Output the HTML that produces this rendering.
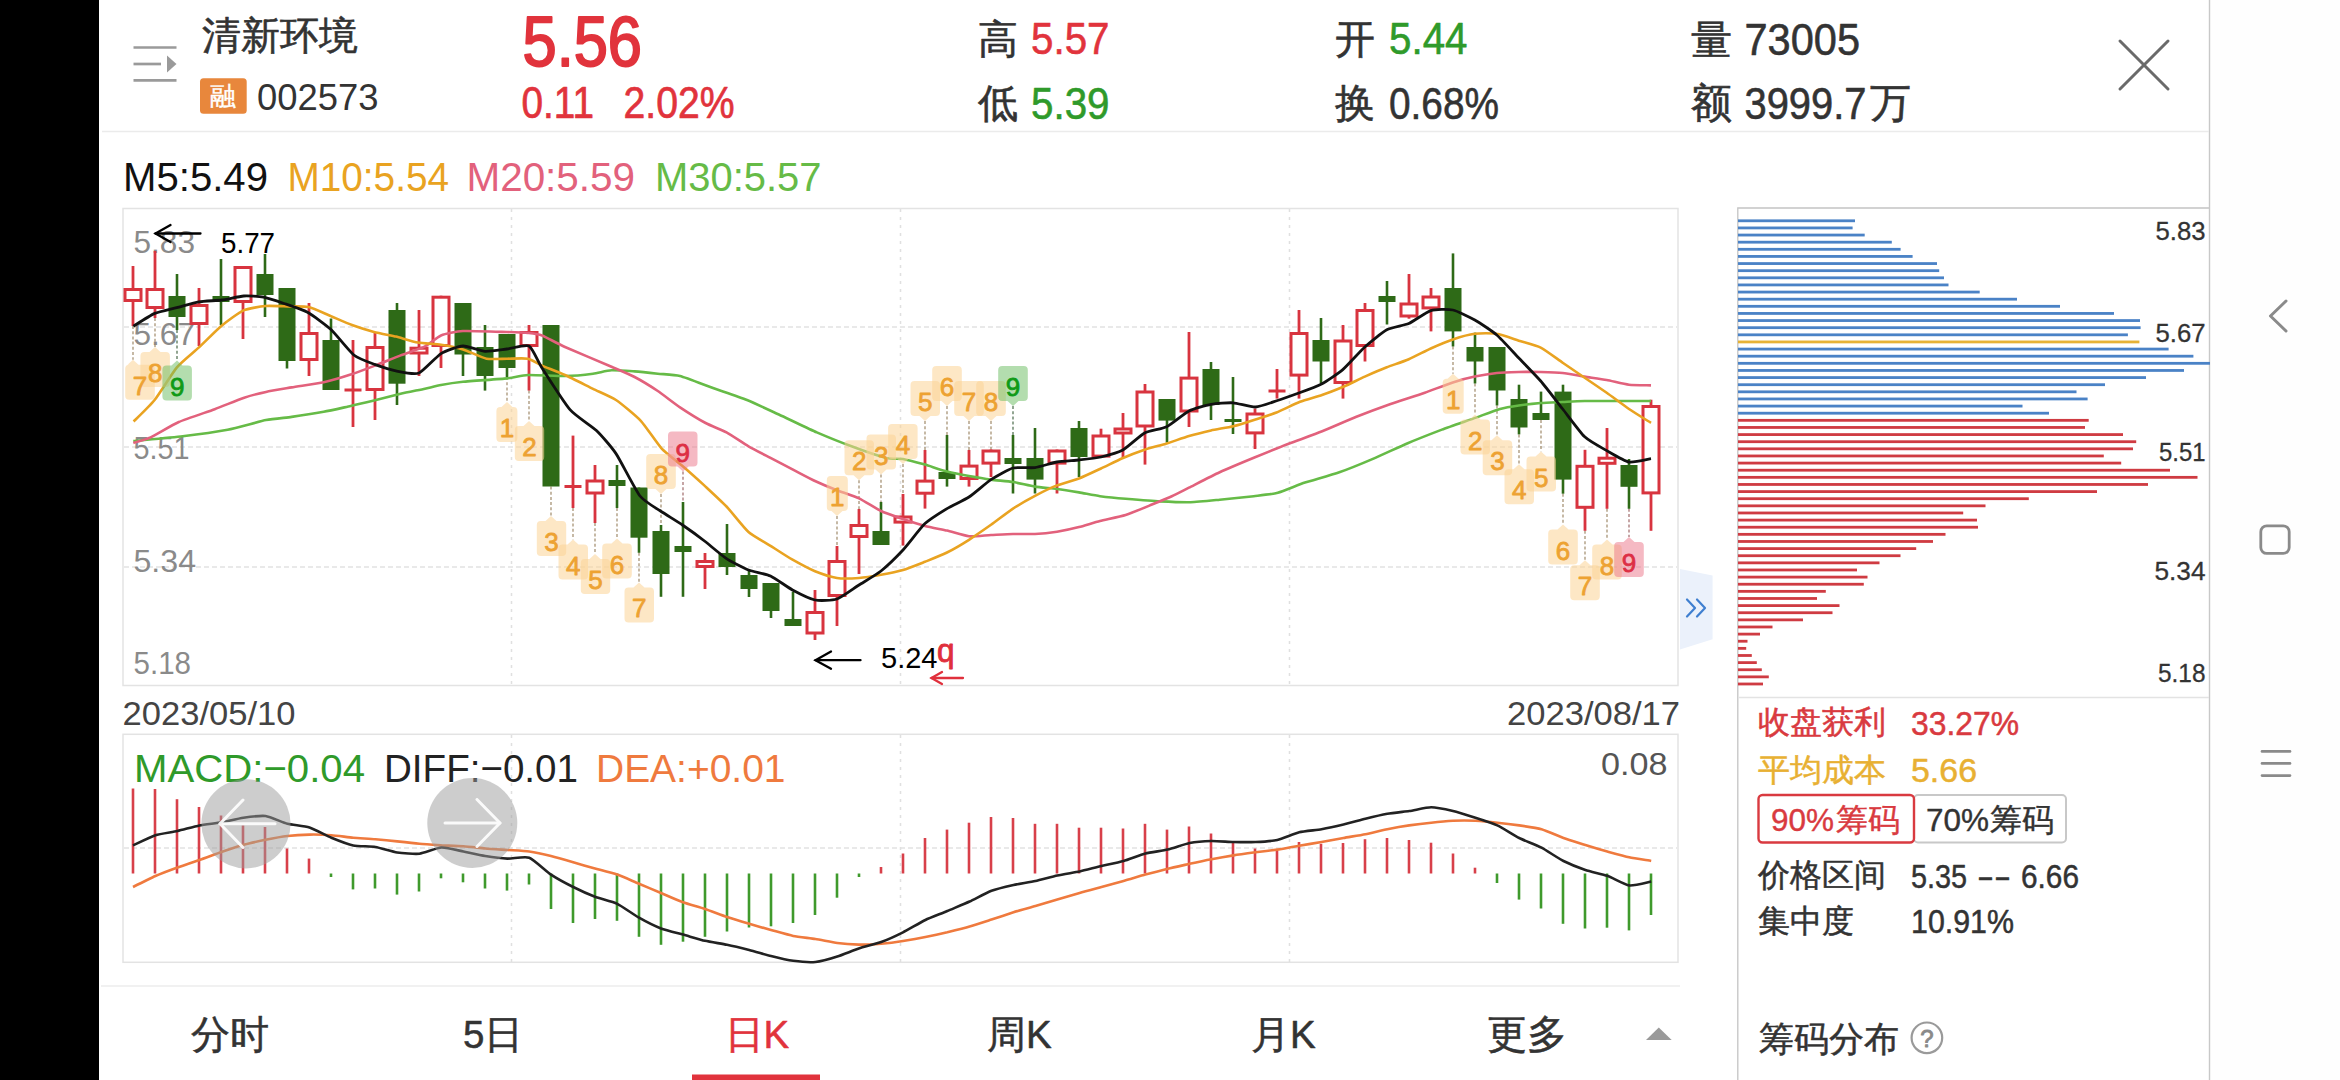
<!DOCTYPE html>
<html><head><meta charset="utf-8"><title>K</title>
<style>
html,body{margin:0;padding:0;background:#fff;}
body{width:2340px;height:1080px;overflow:hidden;font-family:"Liberation Sans", sans-serif;}
svg{display:block;font-family:"Liberation Sans", sans-serif;}
</style></head><body>
<svg width="2340" height="1080" viewBox="0 0 2340 1080">
<rect width="2340" height="1080" fill="#fff"/>
<rect x="0" y="0" width="99" height="1080" fill="#000"/>
<rect x="2210" y="0" width="130" height="1080" fill="#fefefe"/>
<line x1="2209.5" y1="0" x2="2209.5" y2="1080" stroke="#c8c8c8" stroke-width="1.4"/>
<line x1="102" y1="131.5" x2="2209" y2="131.5" stroke="#ebebeb" stroke-width="1.5"/>
<g stroke="#9a9a9a" stroke-width="2.7" fill="none"><line x1="133.5" y1="47.5" x2="176.5" y2="47.5"/><line x1="133.5" y1="64" x2="161" y2="64"/><line x1="133.5" y1="80.3" x2="176.5" y2="80.3"/></g>
<path d="M167,55.5 L176.5,64 L167,72.6 Z" fill="#9a9a9a"/>
<text x="202.0" y="49.3" font-size="39.3" fill="#333333" stroke="#333333" stroke-width="0.60" stroke-linejoin="round">清新环境</text>
<rect x="200" y="78.3" width="46.7" height="35.4" rx="3.5" fill="#e8873c"/>
<text x="223.3" y="105.0" font-size="26.0" fill="#fff" text-anchor="middle" stroke="#fff" stroke-width="0.40" stroke-linejoin="round">融</text>
<text x="257.0" y="110.2" font-size="36.5" fill="#333333" textLength="121.5" lengthAdjust="spacingAndGlyphs">002573</text>
<text x="522.5" y="65.8" font-size="70.5" fill="#e1333c" textLength="119.5" lengthAdjust="spacingAndGlyphs" stroke="#e1333c" stroke-width="2.00" stroke-linejoin="round">5.56</text>
<text x="521.5" y="117.7" font-size="44.5" fill="#e1333c" textLength="72.5" lengthAdjust="spacingAndGlyphs" stroke="#e1333c" stroke-width="0.70" stroke-linejoin="round">0.11</text>
<text x="623.5" y="117.7" font-size="44.5" fill="#e1333c" textLength="111.0" lengthAdjust="spacingAndGlyphs" stroke="#e1333c" stroke-width="0.70" stroke-linejoin="round">2.02%</text>
<text x="978.0" y="53.0" font-size="40.0" fill="#333333" stroke="#333333" stroke-width="0.60" stroke-linejoin="round">高</text>
<text x="1031.0" y="53.8" font-size="44.8" fill="#e1333c" textLength="78.5" lengthAdjust="spacingAndGlyphs" stroke="#e1333c" stroke-width="0.60" stroke-linejoin="round">5.57</text>
<text x="978.0" y="116.5" font-size="40.0" fill="#333333" stroke="#333333" stroke-width="0.60" stroke-linejoin="round">低</text>
<text x="1031.0" y="118.5" font-size="44.8" fill="#2f9a2a" textLength="78.5" lengthAdjust="spacingAndGlyphs" stroke="#2f9a2a" stroke-width="0.60" stroke-linejoin="round">5.39</text>
<text x="1335.0" y="53.0" font-size="40.0" fill="#333333" stroke="#333333" stroke-width="0.60" stroke-linejoin="round">开</text>
<text x="1389.0" y="53.8" font-size="44.8" fill="#2f9a2a" textLength="78.5" lengthAdjust="spacingAndGlyphs" stroke="#2f9a2a" stroke-width="0.60" stroke-linejoin="round">5.44</text>
<text x="1335.0" y="116.5" font-size="40.0" fill="#333333" stroke="#333333" stroke-width="0.60" stroke-linejoin="round">换</text>
<text x="1389.0" y="118.5" font-size="44.8" fill="#333333" textLength="110.0" lengthAdjust="spacingAndGlyphs" stroke="#333333" stroke-width="0.60" stroke-linejoin="round">0.68%</text>
<text x="1690.5" y="53.5" font-size="40.5" fill="#333333" stroke="#333333" stroke-width="0.60" stroke-linejoin="round">量</text>
<text x="1744.5" y="54.6" font-size="45.0" fill="#333333" textLength="115.5" lengthAdjust="spacingAndGlyphs" stroke="#333333" stroke-width="0.60" stroke-linejoin="round">73005</text>
<text x="1690.5" y="117.0" font-size="40.5" fill="#333333" stroke="#333333" stroke-width="0.60" stroke-linejoin="round">额</text>
<text x="1744.5" y="118.5" font-size="45.0" fill="#333333" textLength="122.0" lengthAdjust="spacingAndGlyphs" stroke="#333333" stroke-width="0.60" stroke-linejoin="round">3999.7</text>
<text x="1870.0" y="117.0" font-size="40.5" fill="#333333" stroke="#333333" stroke-width="0.60" stroke-linejoin="round">万</text>
<g stroke="#6a6a6a" stroke-width="3" stroke-linecap="round"><line x1="2120" y1="41" x2="2168" y2="89"/><line x1="2168" y1="41" x2="2120" y2="89"/></g>
<path d="M2286,301 L2270.5,316 L2286,331" fill="none" stroke="#8a8a8a" stroke-width="3" stroke-linecap="round" stroke-linejoin="round"/>
<rect x="2260.8" y="525.8" width="28.4" height="27.6" rx="6" fill="none" stroke="#8a8a8a" stroke-width="2.8"/>
<g stroke="#8a8a8a" stroke-width="2.6" stroke-linecap="round"><line x1="2262" y1="751.4" x2="2290" y2="751.4"/><line x1="2262" y1="763.4" x2="2290" y2="763.4"/><line x1="2262" y1="775.6" x2="2290" y2="775.6"/></g>
<text x="123.0" y="190.5" font-size="40.0" fill="#111" textLength="145.0" lengthAdjust="spacingAndGlyphs">M5:5.49</text>
<text x="287.5" y="190.5" font-size="40.0" fill="#e9a321" textLength="161.5" lengthAdjust="spacingAndGlyphs">M10:5.54</text>
<text x="466.5" y="190.5" font-size="40.0" fill="#e2617c" textLength="168.5" lengthAdjust="spacingAndGlyphs">M20:5.59</text>
<text x="655.0" y="190.5" font-size="40.0" fill="#66bb47" textLength="166.5" lengthAdjust="spacingAndGlyphs">M30:5.57</text>
<rect x="123" y="208.5" width="1555" height="477" fill="none" stroke="#e3e3e3" stroke-width="1.5"/>
<line x1="124" y1="327.0" x2="1677" y2="327.0" stroke="#e2e2e2" stroke-width="1.5" stroke-dasharray="5,3"/>
<line x1="124" y1="447.0" x2="1677" y2="447.0" stroke="#e2e2e2" stroke-width="1.5" stroke-dasharray="5,3"/>
<line x1="124" y1="567.0" x2="1677" y2="567.0" stroke="#e2e2e2" stroke-width="1.5" stroke-dasharray="5,3"/>
<line x1="511.5" y1="209" x2="511.5" y2="685" stroke="#e0e0e0" stroke-width="1.5" stroke-dasharray="3,5"/>
<line x1="900.5" y1="209" x2="900.5" y2="685" stroke="#e0e0e0" stroke-width="1.5" stroke-dasharray="3,5"/>
<line x1="1289.5" y1="209" x2="1289.5" y2="685" stroke="#e0e0e0" stroke-width="1.5" stroke-dasharray="3,5"/>
<text x="133.5" y="252.6" font-size="31.0" fill="#8a8a8a" textLength="61.5" lengthAdjust="spacingAndGlyphs">5.83</text>
<text x="133.5" y="344.8" font-size="31.0" fill="#8a8a8a" textLength="61.5" lengthAdjust="spacingAndGlyphs">5.67</text>
<text x="133.5" y="458.6" font-size="31.0" fill="#8a8a8a" textLength="56.0" lengthAdjust="spacingAndGlyphs">5.51</text>
<text x="133.5" y="571.8" font-size="31.0" fill="#8a8a8a" textLength="62.5" lengthAdjust="spacingAndGlyphs">5.34</text>
<text x="133.5" y="674.3" font-size="31.0" fill="#8a8a8a" textLength="57.5" lengthAdjust="spacingAndGlyphs">5.18</text>
<line x1="133.0" y1="326.0" x2="133.0" y2="359.8" stroke="#a08a6a" stroke-width="1.2" stroke-dasharray="3,2.2"/>
<line x1="155.0" y1="318.0" x2="155.0" y2="347.0" stroke="#a08a6a" stroke-width="1.2" stroke-dasharray="3,2.2"/>
<line x1="177.0" y1="330.0" x2="177.0" y2="360.5" stroke="#4a6a4a" stroke-width="1.2" stroke-dasharray="3,2.2"/>
<line x1="507.0" y1="377.0" x2="507.0" y2="402.0" stroke="#a08a6a" stroke-width="1.2" stroke-dasharray="3,2.2"/>
<line x1="529.0" y1="390.6" x2="529.0" y2="421.0" stroke="#a08a6a" stroke-width="1.2" stroke-dasharray="3,2.2"/>
<line x1="551.0" y1="486.5" x2="551.0" y2="516.0" stroke="#a08a6a" stroke-width="1.2" stroke-dasharray="3,2.2"/>
<line x1="573.0" y1="508.0" x2="573.0" y2="539.6" stroke="#a08a6a" stroke-width="1.2" stroke-dasharray="3,2.2"/>
<line x1="595.0" y1="523.0" x2="595.0" y2="554.0" stroke="#a08a6a" stroke-width="1.2" stroke-dasharray="3,2.2"/>
<line x1="617.0" y1="508.0" x2="617.0" y2="538.6" stroke="#a08a6a" stroke-width="1.2" stroke-dasharray="3,2.2"/>
<line x1="639.0" y1="552.8" x2="639.0" y2="582.4" stroke="#a08a6a" stroke-width="1.2" stroke-dasharray="3,2.2"/>
<line x1="661.0" y1="494.0" x2="661.0" y2="525.0" stroke="#a08a6a" stroke-width="1.2" stroke-dasharray="3,2.2"/>
<line x1="683.0" y1="471.6" x2="683.0" y2="502.0" stroke="#a06a6a" stroke-width="1.2" stroke-dasharray="3,2.2"/>
<line x1="837.0" y1="516.0" x2="837.0" y2="546.0" stroke="#a08a6a" stroke-width="1.2" stroke-dasharray="3,2.2"/>
<line x1="859.0" y1="480.3" x2="859.0" y2="509.0" stroke="#a08a6a" stroke-width="1.2" stroke-dasharray="3,2.2"/>
<line x1="881.0" y1="474.5" x2="881.0" y2="502.0" stroke="#a08a6a" stroke-width="1.2" stroke-dasharray="3,2.2"/>
<line x1="903.0" y1="464.1" x2="903.0" y2="494.0" stroke="#a08a6a" stroke-width="1.2" stroke-dasharray="3,2.2"/>
<line x1="925.0" y1="421.0" x2="925.0" y2="450.0" stroke="#a08a6a" stroke-width="1.2" stroke-dasharray="3,2.2"/>
<line x1="947.0" y1="406.0" x2="947.0" y2="435.0" stroke="#a08a6a" stroke-width="1.2" stroke-dasharray="3,2.2"/>
<line x1="969.0" y1="421.0" x2="969.0" y2="450.0" stroke="#a08a6a" stroke-width="1.2" stroke-dasharray="3,2.2"/>
<line x1="991.0" y1="421.0" x2="991.0" y2="449.5" stroke="#a08a6a" stroke-width="1.2" stroke-dasharray="3,2.2"/>
<line x1="1013.0" y1="406.0" x2="1013.0" y2="435.0" stroke="#4a6a4a" stroke-width="1.2" stroke-dasharray="3,2.2"/>
<line x1="1453.0" y1="346.5" x2="1453.0" y2="373.7" stroke="#a08a6a" stroke-width="1.2" stroke-dasharray="3,2.2"/>
<line x1="1475.0" y1="383.5" x2="1475.0" y2="414.5" stroke="#a08a6a" stroke-width="1.2" stroke-dasharray="3,2.2"/>
<line x1="1497.0" y1="405.5" x2="1497.0" y2="435.3" stroke="#a08a6a" stroke-width="1.2" stroke-dasharray="3,2.2"/>
<line x1="1519.0" y1="434.4" x2="1519.0" y2="464.3" stroke="#a08a6a" stroke-width="1.2" stroke-dasharray="3,2.2"/>
<line x1="1541.0" y1="420.0" x2="1541.0" y2="451.5" stroke="#a08a6a" stroke-width="1.2" stroke-dasharray="3,2.2"/>
<line x1="1563.0" y1="493.7" x2="1563.0" y2="524.5" stroke="#a08a6a" stroke-width="1.2" stroke-dasharray="3,2.2"/>
<line x1="1585.0" y1="530.8" x2="1585.0" y2="560.3" stroke="#a08a6a" stroke-width="1.2" stroke-dasharray="3,2.2"/>
<line x1="1607.0" y1="508.8" x2="1607.0" y2="539.5" stroke="#a08a6a" stroke-width="1.2" stroke-dasharray="3,2.2"/>
<line x1="1629.0" y1="508.8" x2="1629.0" y2="537.0" stroke="#a06a6a" stroke-width="1.2" stroke-dasharray="3,2.2"/>
<line x1="133.0" y1="266.0" x2="133.0" y2="326.0" stroke="#d8343f" stroke-width="2.8"/>
<rect x="125.0" y="289.5" width="16" height="11.0" fill="#fff" stroke="#d8343f" stroke-width="3"/>
<line x1="155.0" y1="251.0" x2="155.0" y2="318.0" stroke="#d8343f" stroke-width="2.8"/>
<rect x="147.0" y="289.5" width="16" height="18.0" fill="#fff" stroke="#d8343f" stroke-width="3"/>
<line x1="177.0" y1="274.0" x2="177.0" y2="330.0" stroke="#2e6a17" stroke-width="2.6"/>
<rect x="168.5" y="296.0" width="17" height="21.0" fill="#2e6a17"/>
<line x1="199.0" y1="288.0" x2="199.0" y2="346.0" stroke="#d8343f" stroke-width="2.8"/>
<rect x="191.0" y="305.5" width="16" height="18.0" fill="#fff" stroke="#d8343f" stroke-width="3"/>
<line x1="221.0" y1="259.0" x2="221.0" y2="325.0" stroke="#2e6a17" stroke-width="2.6"/>
<rect x="212.5" y="296.0" width="17" height="6.0" fill="#2e6a17"/>
<line x1="243.0" y1="266.0" x2="243.0" y2="339.0" stroke="#d8343f" stroke-width="2.8"/>
<rect x="235.0" y="267.5" width="16" height="34.0" fill="#fff" stroke="#d8343f" stroke-width="3"/>
<line x1="265.0" y1="254.0" x2="265.0" y2="317.0" stroke="#2e6a17" stroke-width="2.6"/>
<rect x="256.5" y="274.0" width="17" height="21.0" fill="#2e6a17"/>
<line x1="287.0" y1="288.0" x2="287.0" y2="368.5" stroke="#2e6a17" stroke-width="2.6"/>
<rect x="278.5" y="288.0" width="17" height="73.0" fill="#2e6a17"/>
<line x1="309.0" y1="303.0" x2="309.0" y2="376.0" stroke="#d8343f" stroke-width="2.8"/>
<rect x="301.0" y="333.5" width="16" height="26.0" fill="#fff" stroke="#d8343f" stroke-width="3"/>
<line x1="331.0" y1="318.5" x2="331.0" y2="390.0" stroke="#2e6a17" stroke-width="2.6"/>
<rect x="322.5" y="340.0" width="17" height="50.0" fill="#2e6a17"/>
<line x1="353.0" y1="340.0" x2="353.0" y2="427.0" stroke="#d8343f" stroke-width="2.8"/>
<rect x="344.5" y="388.5" width="17" height="3" fill="#d8343f"/>
<line x1="375.0" y1="333.0" x2="375.0" y2="420.0" stroke="#d8343f" stroke-width="2.8"/>
<rect x="367.0" y="347.5" width="16" height="42.0" fill="#fff" stroke="#d8343f" stroke-width="3"/>
<line x1="397.0" y1="303.0" x2="397.0" y2="405.0" stroke="#2e6a17" stroke-width="2.6"/>
<rect x="388.5" y="310.0" width="17" height="73.7" fill="#2e6a17"/>
<line x1="419.0" y1="310.0" x2="419.0" y2="376.0" stroke="#d8343f" stroke-width="2.8"/>
<rect x="411.0" y="348.2" width="16" height="4.8" fill="#fff" stroke="#d8343f" stroke-width="3"/>
<line x1="441.0" y1="295.7" x2="441.0" y2="368.0" stroke="#d8343f" stroke-width="2.8"/>
<rect x="433.0" y="297.2" width="16" height="48.3" fill="#fff" stroke="#d8343f" stroke-width="3"/>
<line x1="463.0" y1="303.0" x2="463.0" y2="376.0" stroke="#2e6a17" stroke-width="2.6"/>
<rect x="454.5" y="303.0" width="17" height="51.5" fill="#2e6a17"/>
<line x1="485.0" y1="325.0" x2="485.0" y2="390.6" stroke="#2e6a17" stroke-width="2.6"/>
<rect x="476.5" y="347.0" width="17" height="29.0" fill="#2e6a17"/>
<line x1="507.0" y1="334.0" x2="507.0" y2="377.0" stroke="#2e6a17" stroke-width="2.6"/>
<rect x="498.5" y="334.0" width="17" height="34.0" fill="#2e6a17"/>
<line x1="529.0" y1="325.0" x2="529.0" y2="390.6" stroke="#d8343f" stroke-width="2.8"/>
<rect x="521.0" y="332.5" width="16" height="13.0" fill="#fff" stroke="#d8343f" stroke-width="3"/>
<rect x="542.5" y="325.0" width="17" height="161.5" fill="#2e6a17"/>
<line x1="573.0" y1="435.6" x2="573.0" y2="508.0" stroke="#d8343f" stroke-width="2.8"/>
<rect x="564.5" y="485.0" width="17" height="3" fill="#d8343f"/>
<line x1="595.0" y1="465.0" x2="595.0" y2="523.0" stroke="#d8343f" stroke-width="2.8"/>
<rect x="587.0" y="481.0" width="16" height="12.0" fill="#fff" stroke="#d8343f" stroke-width="3"/>
<line x1="617.0" y1="465.0" x2="617.0" y2="508.0" stroke="#2e6a17" stroke-width="2.6"/>
<rect x="608.5" y="480.0" width="17" height="6.0" fill="#2e6a17"/>
<line x1="639.0" y1="487.5" x2="639.0" y2="552.8" stroke="#2e6a17" stroke-width="2.6"/>
<rect x="630.5" y="487.5" width="17" height="50.2" fill="#2e6a17"/>
<line x1="661.0" y1="525.0" x2="661.0" y2="596.8" stroke="#2e6a17" stroke-width="2.6"/>
<rect x="652.5" y="531.0" width="17" height="43.0" fill="#2e6a17"/>
<line x1="683.0" y1="502.0" x2="683.0" y2="596.8" stroke="#2e6a17" stroke-width="2.6"/>
<rect x="674.5" y="546.0" width="17" height="6.0" fill="#2e6a17"/>
<line x1="705.0" y1="553.0" x2="705.0" y2="589.0" stroke="#d8343f" stroke-width="2.8"/>
<rect x="697.0" y="561.5" width="16" height="5.0" fill="#fff" stroke="#d8343f" stroke-width="3"/>
<line x1="727.0" y1="524.0" x2="727.0" y2="575.0" stroke="#2e6a17" stroke-width="2.6"/>
<rect x="718.5" y="553.0" width="17" height="14.0" fill="#2e6a17"/>
<line x1="749.0" y1="569.0" x2="749.0" y2="597.0" stroke="#2e6a17" stroke-width="2.6"/>
<rect x="740.5" y="575.0" width="17" height="14.0" fill="#2e6a17"/>
<line x1="771.0" y1="583.0" x2="771.0" y2="618.0" stroke="#2e6a17" stroke-width="2.6"/>
<rect x="762.5" y="583.0" width="17" height="28.0" fill="#2e6a17"/>
<line x1="793.0" y1="591.7" x2="793.0" y2="626.0" stroke="#2e6a17" stroke-width="2.6"/>
<rect x="784.5" y="619.0" width="17" height="7.0" fill="#2e6a17"/>
<line x1="815.0" y1="590.0" x2="815.0" y2="640.0" stroke="#d8343f" stroke-width="2.8"/>
<rect x="807.0" y="612.5" width="16" height="20.5" fill="#fff" stroke="#d8343f" stroke-width="3"/>
<line x1="837.0" y1="546.0" x2="837.0" y2="626.0" stroke="#d8343f" stroke-width="2.8"/>
<rect x="829.0" y="561.5" width="16" height="34.0" fill="#fff" stroke="#d8343f" stroke-width="3"/>
<line x1="859.0" y1="509.0" x2="859.0" y2="574.0" stroke="#d8343f" stroke-width="2.8"/>
<rect x="851.0" y="525.5" width="16" height="11.0" fill="#fff" stroke="#d8343f" stroke-width="3"/>
<line x1="881.0" y1="502.0" x2="881.0" y2="545.0" stroke="#2e6a17" stroke-width="2.6"/>
<rect x="872.5" y="531.0" width="17" height="14.0" fill="#2e6a17"/>
<line x1="903.0" y1="494.0" x2="903.0" y2="545.6" stroke="#d8343f" stroke-width="2.8"/>
<rect x="895.0" y="517.0" width="16" height="5.1" fill="#fff" stroke="#d8343f" stroke-width="3"/>
<line x1="925.0" y1="450.0" x2="925.0" y2="508.6" stroke="#d8343f" stroke-width="2.8"/>
<rect x="917.0" y="481.1" width="16" height="12.1" fill="#fff" stroke="#d8343f" stroke-width="3"/>
<line x1="947.0" y1="435.0" x2="947.0" y2="486.6" stroke="#2e6a17" stroke-width="2.6"/>
<rect x="938.5" y="472.0" width="17" height="7.0" fill="#2e6a17"/>
<line x1="969.0" y1="450.0" x2="969.0" y2="486.6" stroke="#d8343f" stroke-width="2.8"/>
<rect x="961.0" y="466.1" width="16" height="12.4" fill="#fff" stroke="#d8343f" stroke-width="3"/>
<line x1="991.0" y1="449.5" x2="991.0" y2="477.0" stroke="#d8343f" stroke-width="2.8"/>
<rect x="983.0" y="451.0" width="16" height="12.1" fill="#fff" stroke="#d8343f" stroke-width="3"/>
<line x1="1013.0" y1="435.0" x2="1013.0" y2="493.5" stroke="#2e6a17" stroke-width="2.6"/>
<rect x="1004.5" y="458.0" width="17" height="6.0" fill="#2e6a17"/>
<line x1="1035.0" y1="428.0" x2="1035.0" y2="493.5" stroke="#2e6a17" stroke-width="2.6"/>
<rect x="1026.5" y="458.0" width="17" height="21.6" fill="#2e6a17"/>
<line x1="1057.0" y1="449.5" x2="1057.0" y2="493.5" stroke="#d8343f" stroke-width="2.8"/>
<rect x="1049.0" y="451.0" width="16" height="12.1" fill="#fff" stroke="#d8343f" stroke-width="3"/>
<line x1="1079.0" y1="421.0" x2="1079.0" y2="477.0" stroke="#2e6a17" stroke-width="2.6"/>
<rect x="1070.5" y="428.0" width="17" height="29.0" fill="#2e6a17"/>
<line x1="1101.0" y1="428.7" x2="1101.0" y2="457.6" stroke="#d8343f" stroke-width="2.8"/>
<rect x="1093.0" y="436.0" width="16" height="20.1" fill="#fff" stroke="#d8343f" stroke-width="3"/>
<line x1="1123.0" y1="413.0" x2="1123.0" y2="457.6" stroke="#d8343f" stroke-width="2.8"/>
<rect x="1115.0" y="429.0" width="16" height="4.0" fill="#fff" stroke="#d8343f" stroke-width="3"/>
<line x1="1145.0" y1="384.0" x2="1145.0" y2="464.6" stroke="#d8343f" stroke-width="2.8"/>
<rect x="1137.0" y="392.0" width="16" height="34.0" fill="#fff" stroke="#d8343f" stroke-width="3"/>
<line x1="1167.0" y1="399.0" x2="1167.0" y2="442.6" stroke="#2e6a17" stroke-width="2.6"/>
<rect x="1158.5" y="399.0" width="17" height="21.6" fill="#2e6a17"/>
<line x1="1189.0" y1="332.0" x2="1189.0" y2="427.0" stroke="#d8343f" stroke-width="2.8"/>
<rect x="1181.0" y="378.1" width="16" height="32.9" fill="#fff" stroke="#d8343f" stroke-width="3"/>
<line x1="1211.0" y1="362.0" x2="1211.0" y2="420.0" stroke="#2e6a17" stroke-width="2.6"/>
<rect x="1202.5" y="369.0" width="17" height="36.0" fill="#2e6a17"/>
<line x1="1233.0" y1="377.0" x2="1233.0" y2="434.0" stroke="#2e6a17" stroke-width="2.6"/>
<rect x="1224.5" y="419.0" width="17" height="3.0" fill="#2e6a17"/>
<line x1="1255.0" y1="408.5" x2="1255.0" y2="449.0" stroke="#d8343f" stroke-width="2.8"/>
<rect x="1247.0" y="414.0" width="16" height="18.9" fill="#fff" stroke="#d8343f" stroke-width="3"/>
<line x1="1277.0" y1="369.0" x2="1277.0" y2="398.6" stroke="#d8343f" stroke-width="2.8"/>
<rect x="1268.5" y="389.5" width="17" height="3" fill="#d8343f"/>
<line x1="1299.0" y1="310.0" x2="1299.0" y2="398.6" stroke="#d8343f" stroke-width="2.8"/>
<rect x="1291.0" y="333.5" width="16" height="41.6" fill="#fff" stroke="#d8343f" stroke-width="3"/>
<line x1="1321.0" y1="318.0" x2="1321.0" y2="383.0" stroke="#2e6a17" stroke-width="2.6"/>
<rect x="1312.5" y="340.0" width="17" height="21.5" fill="#2e6a17"/>
<line x1="1343.0" y1="325.0" x2="1343.0" y2="398.6" stroke="#d8343f" stroke-width="2.8"/>
<rect x="1335.0" y="341.0" width="16" height="41.5" fill="#fff" stroke="#d8343f" stroke-width="3"/>
<line x1="1365.0" y1="303.0" x2="1365.0" y2="361.5" stroke="#d8343f" stroke-width="2.8"/>
<rect x="1357.0" y="310.5" width="16" height="35.0" fill="#fff" stroke="#d8343f" stroke-width="3"/>
<line x1="1387.0" y1="281.0" x2="1387.0" y2="324.5" stroke="#2e6a17" stroke-width="2.6"/>
<rect x="1378.5" y="296.0" width="17" height="6.0" fill="#2e6a17"/>
<line x1="1409.0" y1="274.0" x2="1409.0" y2="318.7" stroke="#d8343f" stroke-width="2.8"/>
<rect x="1401.0" y="304.0" width="16" height="12.0" fill="#fff" stroke="#d8343f" stroke-width="3"/>
<line x1="1431.0" y1="288.0" x2="1431.0" y2="331.4" stroke="#d8343f" stroke-width="2.8"/>
<rect x="1423.0" y="297.0" width="16" height="10.9" fill="#fff" stroke="#d8343f" stroke-width="3"/>
<line x1="1453.0" y1="253.4" x2="1453.0" y2="346.5" stroke="#2e6a17" stroke-width="2.6"/>
<rect x="1444.5" y="288.0" width="17" height="43.4" fill="#2e6a17"/>
<line x1="1475.0" y1="332.6" x2="1475.0" y2="383.5" stroke="#2e6a17" stroke-width="2.6"/>
<rect x="1466.5" y="347.0" width="17" height="14.5" fill="#2e6a17"/>
<line x1="1497.0" y1="347.0" x2="1497.0" y2="405.5" stroke="#2e6a17" stroke-width="2.6"/>
<rect x="1488.5" y="347.0" width="17" height="43.5" fill="#2e6a17"/>
<line x1="1519.0" y1="384.7" x2="1519.0" y2="434.4" stroke="#2e6a17" stroke-width="2.6"/>
<rect x="1510.5" y="399.0" width="17" height="28.5" fill="#2e6a17"/>
<line x1="1541.0" y1="391.6" x2="1541.0" y2="420.0" stroke="#2e6a17" stroke-width="2.6"/>
<rect x="1532.5" y="413.0" width="17" height="7.0" fill="#2e6a17"/>
<line x1="1563.0" y1="384.7" x2="1563.0" y2="493.7" stroke="#2e6a17" stroke-width="2.6"/>
<rect x="1554.5" y="391.6" width="17" height="88.0" fill="#2e6a17"/>
<line x1="1585.0" y1="449.8" x2="1585.0" y2="530.8" stroke="#d8343f" stroke-width="2.8"/>
<rect x="1577.0" y="466.3" width="16" height="41.0" fill="#fff" stroke="#d8343f" stroke-width="3"/>
<line x1="1607.0" y1="428.0" x2="1607.0" y2="508.8" stroke="#d8343f" stroke-width="2.8"/>
<rect x="1599.0" y="458.2" width="16" height="5.1" fill="#fff" stroke="#d8343f" stroke-width="3"/>
<line x1="1629.0" y1="459.0" x2="1629.0" y2="508.8" stroke="#2e6a17" stroke-width="2.6"/>
<rect x="1620.5" y="465.0" width="17" height="21.8" fill="#2e6a17"/>
<line x1="1651.0" y1="399.7" x2="1651.0" y2="530.8" stroke="#d8343f" stroke-width="2.8"/>
<rect x="1643.0" y="406.5" width="16" height="86.4" fill="#fff" stroke="#d8343f" stroke-width="3"/>
<path d="M133.3,441.0 C138.2,440.5 173.3,437.3 182.7,436.2 C192.1,435.1 219.3,431.3 227.6,429.7 C235.9,428.1 259.6,421.4 266.0,420.1 C272.4,418.8 285.9,417.7 291.7,416.9 C297.5,416.1 317.8,412.9 323.7,411.8 C329.6,410.7 345.5,407.1 350.6,406.0 C355.7,404.9 370.0,401.5 375.0,400.3 C380.0,399.1 395.6,395.0 400.6,393.8 C405.6,392.6 421.0,389.6 425.0,388.7 C429.0,387.8 437.2,385.7 441.0,385.0 C444.8,384.3 456.4,382.5 463.0,381.8 C469.6,381.1 500.5,379.1 507.0,378.4 C513.5,377.7 522.2,375.2 528.0,375.0 C533.8,374.8 558.5,376.1 565.0,376.0 C571.5,375.9 588.4,374.3 593.0,373.7 C597.6,373.1 607.3,370.5 611.5,370.3 C615.7,370.1 630.0,371.1 634.6,371.4 C639.2,371.7 653.3,373.2 657.8,373.7 C662.3,374.2 674.5,374.6 680.0,376.0 C685.5,377.4 706.3,385.6 713.0,388.0 C719.7,390.4 740.1,397.2 747.0,400.0 C753.9,402.8 775.0,412.8 782.0,416.0 C789.0,419.2 809.8,429.4 816.8,432.4 C823.8,435.4 844.6,443.8 851.5,446.3 C858.4,448.9 880.9,456.6 886.0,457.9 C891.1,459.2 899.1,458.3 903.0,459.0 C906.9,459.7 920.6,463.4 925.0,464.6 C929.4,465.9 942.6,470.4 947.0,471.5 C951.4,472.6 964.6,475.2 969.0,476.0 C973.4,476.8 986.6,479.0 991.0,479.6 C995.4,480.2 1008.6,481.3 1013.0,482.0 C1017.4,482.7 1030.6,485.9 1035.0,486.6 C1039.4,487.3 1052.6,488.4 1057.0,489.0 C1061.4,489.6 1074.7,491.7 1079.0,492.4 C1083.3,493.1 1095.3,495.6 1100.0,496.2 C1104.7,496.8 1119.6,498.3 1125.6,498.8 C1131.6,499.3 1153.3,501.1 1159.8,501.4 C1166.3,501.7 1184.6,502.4 1190.6,502.2 C1196.6,502.0 1213.4,500.3 1219.7,499.7 C1226.0,499.1 1248.0,496.9 1253.8,496.2 C1259.6,495.5 1272.7,494.2 1277.8,492.8 C1282.9,491.4 1298.8,484.7 1305.0,482.6 C1311.2,480.6 1332.5,474.7 1339.3,472.3 C1346.1,469.9 1366.7,461.5 1373.5,458.6 C1380.3,455.7 1400.9,446.1 1407.7,443.2 C1414.5,440.3 1435.1,432.2 1441.9,429.6 C1448.7,427.0 1470.2,419.7 1476.0,417.6 C1481.8,415.5 1495.7,410.2 1500.0,409.0 C1504.3,407.8 1514.7,406.1 1518.8,405.5 C1522.9,404.9 1536.3,403.4 1540.7,403.0 C1545.1,402.6 1558.3,402.2 1562.7,402.0 C1567.1,401.8 1575.9,401.1 1584.7,401.0 C1593.5,400.9 1644.4,401.0 1651.0,401.0" fill="none" stroke="#66bb47" stroke-width="2.6" stroke-linejoin="round"/>
<path d="M133.3,443.0 C135.0,442.4 146.0,439.5 150.6,437.4 C155.2,435.3 172.4,424.8 178.8,422.0 C185.2,419.2 208.2,411.6 214.7,409.2 C221.2,406.8 239.1,399.4 244.2,397.7 C249.3,396.0 261.2,392.9 266.0,391.9 C270.8,390.9 285.9,388.4 291.7,387.4 C297.5,386.4 317.8,383.6 323.7,382.3 C329.6,381.0 345.5,376.3 350.6,374.6 C355.7,372.9 370.0,367.5 375.0,365.6 C380.0,363.7 395.6,357.3 400.6,355.4 C405.6,353.5 421.0,348.4 425.0,346.4 C429.0,344.4 437.2,337.0 441.0,335.5 C444.8,334.0 456.4,331.4 463.0,331.0 C469.6,330.6 500.5,331.8 507.0,332.0 C513.5,332.2 524.5,332.6 528.0,333.0 C531.5,333.4 538.3,334.1 542.0,335.5 C545.7,336.9 558.0,343.9 565.0,347.0 C572.0,350.1 604.5,363.8 611.5,366.8 C618.5,369.8 630.0,374.6 634.6,377.0 C639.2,379.4 653.3,388.0 657.8,391.0 C662.3,394.0 675.2,404.1 680.0,407.3 C684.8,410.5 701.0,420.5 705.6,423.0 C710.2,425.5 722.2,430.1 726.5,432.4 C730.8,434.7 744.1,443.8 748.5,446.3 C752.9,448.9 766.1,455.6 770.5,457.9 C774.9,460.2 788.0,467.1 792.5,469.4 C797.0,471.7 810.5,478.9 815.0,481.0 C819.5,483.1 832.6,488.6 837.0,490.3 C841.4,492.0 854.6,496.3 859.0,498.4 C863.4,500.5 876.6,508.9 881.0,511.0 C885.4,513.1 898.6,517.5 903.0,519.0 C907.4,520.5 920.6,524.8 925.0,526.0 C929.4,527.2 942.6,529.6 947.0,530.6 C951.4,531.6 964.6,535.9 969.0,536.3 C973.4,536.7 986.6,535.2 991.0,535.0 C995.4,534.8 1008.6,534.1 1013.0,534.0 C1017.4,533.9 1030.6,534.2 1035.0,534.0 C1039.4,533.8 1052.6,532.4 1057.0,531.7 C1061.4,531.0 1074.7,528.1 1079.0,527.0 C1083.3,525.9 1095.3,522.2 1100.0,521.0 C1104.7,519.8 1120.5,516.6 1125.6,515.0 C1130.7,513.4 1146.7,506.7 1151.3,504.8 C1155.9,502.9 1168.0,497.9 1171.8,496.2 C1175.6,494.5 1184.1,490.1 1188.9,487.7 C1193.7,485.3 1213.2,475.3 1219.7,472.3 C1226.2,469.3 1247.0,460.6 1253.8,457.8 C1260.6,455.0 1281.2,446.6 1288.0,444.0 C1294.8,441.4 1315.4,434.0 1322.2,431.3 C1329.0,428.6 1349.6,419.5 1356.4,416.8 C1363.2,414.1 1383.8,406.4 1390.6,404.0 C1397.4,401.6 1418.6,395.0 1424.8,392.8 C1431.0,390.6 1447.8,384.0 1452.8,382.4 C1457.8,380.8 1470.4,377.5 1474.8,376.6 C1479.2,375.7 1492.4,373.5 1496.8,373.0 C1501.2,372.5 1514.4,372.1 1518.8,372.0 C1523.2,371.9 1536.3,371.9 1540.7,372.0 C1545.1,372.1 1558.3,372.5 1562.7,373.0 C1567.1,373.5 1580.3,375.9 1584.7,376.6 C1589.1,377.3 1602.3,379.2 1606.7,380.0 C1611.1,380.8 1624.6,384.2 1629.0,384.7 C1633.4,385.2 1648.8,385.3 1651.0,385.4" fill="none" stroke="#e2617c" stroke-width="2.6" stroke-linejoin="round"/>
<path d="M133.6,421.5 C135.7,419.4 150.3,405.4 154.6,400.0 C158.9,394.6 172.5,372.7 176.9,367.4 C181.3,362.1 194.6,351.5 199.0,347.4 C203.4,343.3 216.9,329.7 221.3,326.0 C225.8,322.3 239.1,312.4 243.5,310.4 C247.9,308.4 261.2,306.4 265.7,306.0 C270.1,305.6 283.7,306.3 288.0,306.4 C292.3,306.5 304.5,306.1 308.7,307.0 C312.9,307.9 325.7,313.9 330.0,315.7 C334.3,317.5 347.6,323.4 352.0,325.0 C356.4,326.6 369.6,330.8 374.0,332.0 C378.4,333.2 391.6,335.6 396.0,336.6 C400.4,337.7 413.5,341.7 418.0,342.5 C422.5,343.3 436.5,344.1 441.0,344.8 C445.5,345.5 458.4,348.0 463.0,349.4 C467.6,350.8 482.1,357.8 486.5,358.7 C490.9,359.6 502.9,358.7 507.0,358.7 C511.1,358.7 524.5,358.0 528.0,358.7 C531.5,359.4 538.3,364.0 542.0,365.6 C545.7,367.2 559.9,372.7 565.0,375.0 C570.1,377.3 587.9,386.3 593.0,388.8 C598.1,391.3 611.2,396.8 616.0,400.0 C620.8,403.2 636.2,415.9 640.8,420.8 C645.4,425.7 657.5,444.1 661.7,448.6 C665.9,453.1 678.2,462.3 682.5,466.0 C686.8,469.7 700.1,481.6 704.5,485.6 C708.9,489.7 722.1,501.9 726.5,506.5 C730.9,511.1 744.1,528.1 748.5,532.0 C752.9,535.9 766.1,543.0 770.5,545.8 C774.9,548.6 788.0,557.2 792.5,559.7 C797.0,562.2 810.5,569.5 815.0,571.3 C819.5,573.1 832.6,577.3 837.0,578.0 C841.4,578.7 854.6,578.3 859.0,578.0 C863.4,577.7 876.6,575.6 881.0,574.8 C885.4,574.0 898.6,571.3 903.0,570.0 C907.4,568.7 920.6,563.5 925.0,561.8 C929.4,560.0 942.6,554.7 947.0,552.5 C951.4,550.3 964.6,542.6 969.0,539.8 C973.4,537.0 986.6,527.9 991.0,524.8 C995.4,521.7 1008.6,511.5 1013.0,508.6 C1017.4,505.7 1030.6,498.1 1035.0,495.8 C1039.4,493.5 1052.6,487.1 1057.0,485.4 C1061.4,483.7 1074.6,480.2 1079.0,478.5 C1083.4,476.8 1096.7,470.5 1101.0,468.5 C1105.3,466.5 1118.1,460.2 1122.4,458.3 C1126.8,456.4 1140.1,451.3 1144.5,449.8 C1148.9,448.3 1162.2,444.9 1166.7,443.5 C1171.2,442.1 1184.6,437.3 1189.0,436.0 C1193.4,434.7 1206.6,431.4 1211.0,430.4 C1215.4,429.4 1228.8,427.3 1233.2,426.2 C1237.7,425.1 1251.2,420.8 1255.5,419.4 C1259.8,418.0 1272.0,414.3 1276.5,412.5 C1281.0,410.7 1295.5,403.6 1300.0,401.8 C1304.5,400.1 1317.6,396.5 1322.0,395.0 C1326.4,393.5 1339.7,388.3 1344.0,386.5 C1348.3,384.7 1360.5,378.5 1364.8,376.6 C1369.1,374.7 1382.4,369.0 1386.8,367.3 C1391.2,365.6 1404.4,361.1 1408.8,359.2 C1413.2,357.3 1426.4,350.5 1430.8,348.5 C1435.2,346.5 1448.4,341.0 1452.8,339.5 C1457.2,338.0 1470.4,334.3 1474.8,333.8 C1479.2,333.2 1492.4,333.1 1496.8,333.8 C1501.2,334.4 1514.4,339.3 1518.8,340.7 C1523.2,342.1 1536.3,345.4 1540.7,347.6 C1545.1,349.8 1558.3,359.7 1562.7,362.7 C1567.1,365.7 1580.3,374.7 1584.7,377.7 C1589.1,380.7 1602.3,389.7 1606.7,392.8 C1611.1,395.9 1624.6,406.0 1629.0,409.0 C1633.4,412.0 1648.8,421.5 1651.0,422.9" fill="none" stroke="#e9a321" stroke-width="2.6" stroke-linejoin="round"/>
<path d="M133.4,326.2 C135.5,324.9 150.4,315.3 154.7,313.4 C159.0,311.5 172.3,308.8 176.7,307.6 C181.1,306.5 194.2,302.7 198.7,301.9 C203.2,301.1 217.4,300.6 221.9,300.0 C226.4,299.4 239.6,296.3 243.8,296.0 C248.0,295.7 259.5,296.4 263.5,297.2 C267.5,297.9 279.6,302.0 284.0,303.5 C288.4,305.0 302.8,309.7 307.5,312.3 C312.2,314.9 326.4,325.3 331.0,329.6 C335.6,333.9 349.4,351.5 353.8,355.0 C358.2,358.5 370.2,362.8 374.6,364.4 C379.0,366.0 393.4,370.4 397.8,371.3 C402.2,372.2 414.7,374.8 419.0,373.0 C423.3,371.2 436.6,356.3 441.0,353.6 C445.4,350.9 458.6,346.2 463.0,346.0 C467.4,345.8 480.6,351.0 485.0,351.3 C489.4,351.6 502.6,349.5 507.0,349.0 C511.4,348.5 525.5,344.1 529.0,346.0 C532.5,347.9 537.9,361.6 542.0,368.0 C546.1,374.4 564.6,403.4 570.0,409.6 C575.4,415.9 591.8,426.1 596.4,430.5 C601.0,434.9 611.6,447.1 616.0,453.6 C620.4,460.2 635.5,490.3 640.0,496.0 C644.5,501.7 656.2,508.1 660.5,511.0 C664.8,513.9 678.1,522.0 682.5,525.0 C686.9,528.0 700.1,537.6 704.5,541.0 C708.9,544.4 722.1,555.7 726.5,558.6 C730.9,561.5 744.1,568.3 748.5,570.0 C752.9,571.7 766.1,574.0 770.5,576.0 C774.9,578.0 788.0,587.6 792.5,590.0 C797.0,592.4 810.5,599.1 815.0,600.0 C819.5,600.9 832.6,600.5 837.0,599.0 C841.4,597.5 854.6,587.8 859.0,585.0 C863.4,582.2 876.6,574.5 881.0,571.0 C885.4,567.5 898.6,554.7 903.0,550.0 C907.4,545.3 920.6,527.7 925.0,523.6 C929.4,519.5 942.6,511.3 947.0,508.6 C951.4,505.9 964.6,499.9 969.0,497.0 C973.4,494.1 986.6,482.5 991.0,479.6 C995.4,476.7 1008.6,469.2 1013.0,468.0 C1017.4,466.8 1030.6,468.2 1035.0,467.6 C1039.4,467.0 1052.6,462.8 1057.0,462.0 C1061.4,461.2 1074.6,460.5 1079.0,460.0 C1083.4,459.5 1096.7,458.0 1101.0,457.0 C1105.3,456.0 1118.0,452.7 1122.4,450.3 C1126.8,447.9 1140.2,435.4 1144.6,433.0 C1149.0,430.6 1162.3,429.0 1166.7,426.8 C1171.1,424.6 1184.6,413.2 1189.0,411.0 C1193.4,408.8 1206.6,405.2 1211.0,404.4 C1215.4,403.6 1228.5,402.5 1233.0,402.8 C1237.5,403.1 1251.0,407.2 1255.5,407.0 C1260.0,406.8 1273.1,401.9 1277.5,400.5 C1281.9,399.1 1295.1,394.4 1299.5,392.8 C1303.9,391.2 1317.2,386.3 1321.5,384.0 C1325.8,381.7 1338.5,373.3 1342.8,369.6 C1347.1,365.9 1360.4,351.0 1364.8,347.0 C1369.2,343.0 1382.4,332.2 1386.8,329.8 C1391.2,327.4 1404.4,325.4 1408.8,323.5 C1413.2,321.6 1426.4,312.0 1430.8,310.6 C1435.2,309.2 1448.4,309.1 1452.8,310.0 C1457.2,310.9 1470.4,317.5 1474.8,320.0 C1479.2,322.5 1492.4,331.2 1496.8,335.0 C1501.2,338.8 1514.4,353.4 1518.8,358.0 C1523.2,362.6 1536.3,375.9 1540.7,381.0 C1545.1,386.1 1558.3,403.4 1562.7,409.0 C1567.1,414.6 1580.3,432.6 1584.7,436.8 C1589.1,441.0 1602.3,448.1 1606.7,450.6 C1611.1,453.1 1624.6,461.2 1629.0,462.0 C1633.4,462.8 1648.8,459.0 1651.0,458.7" fill="none" stroke="#111" stroke-width="2.8" stroke-linejoin="round"/>
<path d="M129.2,364.8 L127.5,364.8 L133.0,359.8 L138.5,364.8 L150.8,364.8 A4,4 0 0 1 154.8,368.8 L154.8,395.8 A4,4 0 0 1 150.8,399.8 L129.2,399.8 A4,4 0 0 1 125.2,395.8 L125.2,368.8 A4,4 0 0 1 129.2,364.8 Z" fill="rgba(251,211,150,0.55)"/>
<path d="M144.4,352.0 L149.5,352.0 L155.0,347.0 L160.5,352.0 L165.9,352.0 A4,4 0 0 1 169.9,356.0 L169.9,383.0 A4,4 0 0 1 165.9,387.0 L144.4,387.0 A4,4 0 0 1 140.4,383.0 L140.4,356.0 A4,4 0 0 1 144.4,352.0 Z" fill="rgba(251,211,150,0.55)"/>
<path d="M166.4,365.5 L171.5,365.5 L177.0,360.5 L182.5,365.5 L187.9,365.5 A4,4 0 0 1 191.9,369.5 L191.9,396.5 A4,4 0 0 1 187.9,400.5 L166.4,400.5 A4,4 0 0 1 162.4,396.5 L162.4,369.5 A4,4 0 0 1 166.4,365.5 Z" fill="rgba(110,190,100,0.52)"/>
<path d="M500.4,407.0 L501.5,407.0 L507.0,402.0 L512.5,407.0 L513.4,407.0 A4,4 0 0 1 517.4,411.0 L517.4,438.0 A4,4 0 0 1 513.4,442.0 L500.4,442.0 A4,4 0 0 1 496.4,438.0 L496.4,411.0 A4,4 0 0 1 500.4,407.0 Z" fill="rgba(251,211,150,0.55)"/>
<path d="M518.8,426.0 L523.5,426.0 L529.0,421.0 L534.5,426.0 L540.2,426.0 A4,4 0 0 1 544.2,430.0 L544.2,457.0 A4,4 0 0 1 540.2,461.0 L518.8,461.0 A4,4 0 0 1 514.8,457.0 L514.8,430.0 A4,4 0 0 1 518.8,426.0 Z" fill="rgba(251,211,150,0.55)"/>
<path d="M540.8,521.0 L545.5,521.0 L551.0,516.0 L556.5,521.0 L562.2,521.0 A4,4 0 0 1 566.2,525.0 L566.2,552.0 A4,4 0 0 1 562.2,556.0 L540.8,556.0 A4,4 0 0 1 536.8,552.0 L536.8,525.0 A4,4 0 0 1 540.8,521.0 Z" fill="rgba(251,211,150,0.55)"/>
<path d="M562.5,544.6 L567.5,544.6 L573.0,539.6 L578.5,544.6 L584.0,544.6 A4,4 0 0 1 588.0,548.6 L588.0,575.6 A4,4 0 0 1 584.0,579.6 L562.5,579.6 A4,4 0 0 1 558.5,575.6 L558.5,548.6 A4,4 0 0 1 562.5,544.6 Z" fill="rgba(251,211,150,0.55)"/>
<path d="M584.8,559.0 L589.5,559.0 L595.0,554.0 L600.5,559.0 L606.2,559.0 A4,4 0 0 1 610.2,563.0 L610.2,590.0 A4,4 0 0 1 606.2,594.0 L584.8,594.0 A4,4 0 0 1 580.8,590.0 L580.8,563.0 A4,4 0 0 1 584.8,559.0 Z" fill="rgba(251,211,150,0.55)"/>
<path d="M606.2,543.6 L611.5,543.6 L617.0,538.6 L622.5,543.6 L627.8,543.6 A4,4 0 0 1 631.8,547.6 L631.8,574.6 A4,4 0 0 1 627.8,578.6 L606.2,578.6 A4,4 0 0 1 602.2,574.6 L602.2,547.6 A4,4 0 0 1 606.2,543.6 Z" fill="rgba(251,211,150,0.55)"/>
<path d="M628.5,587.4 L633.5,587.4 L639.0,582.4 L644.5,587.4 L650.0,587.4 A4,4 0 0 1 654.0,591.4 L654.0,618.4 A4,4 0 0 1 650.0,622.4 L628.5,622.4 A4,4 0 0 1 624.5,618.4 L624.5,591.4 A4,4 0 0 1 628.5,587.4 Z" fill="rgba(251,211,150,0.55)"/>
<path d="M650.2,454.0 L671.8,454.0 A4,4 0 0 1 675.8,458.0 L675.8,485.0 A4,4 0 0 1 671.8,489.0 L666.5,489.0 L661.0,494.0 L655.5,489.0 L650.2,489.0 A4,4 0 0 1 646.2,485.0 L646.2,458.0 A4,4 0 0 1 650.2,454.0 Z" fill="rgba(251,211,150,0.55)"/>
<path d="M672.0,431.6 L693.5,431.6 A4,4 0 0 1 697.5,435.6 L697.5,462.6 A4,4 0 0 1 693.5,466.6 L688.5,466.6 L683.0,471.6 L677.5,466.6 L672.0,466.6 A4,4 0 0 1 668.0,462.6 L668.0,435.6 A4,4 0 0 1 672.0,431.6 Z" fill="rgba(236,115,135,0.5)"/>
<path d="M830.8,476.0 L843.8,476.0 A4,4 0 0 1 847.8,480.0 L847.8,507.0 A4,4 0 0 1 843.8,511.0 L842.5,511.0 L837.0,516.0 L831.5,511.0 L830.8,511.0 A4,4 0 0 1 826.8,507.0 L826.8,480.0 A4,4 0 0 1 830.8,476.0 Z" fill="rgba(251,211,150,0.55)"/>
<path d="M848.5,440.3 L870.0,440.3 A4,4 0 0 1 874.0,444.3 L874.0,471.3 A4,4 0 0 1 870.0,475.3 L864.5,475.3 L859.0,480.3 L853.5,475.3 L848.5,475.3 A4,4 0 0 1 844.5,471.3 L844.5,444.3 A4,4 0 0 1 848.5,440.3 Z" fill="rgba(251,211,150,0.55)"/>
<path d="M870.5,434.5 L892.0,434.5 A4,4 0 0 1 896.0,438.5 L896.0,465.5 A4,4 0 0 1 892.0,469.5 L886.5,469.5 L881.0,474.5 L875.5,469.5 L870.5,469.5 A4,4 0 0 1 866.5,465.5 L866.5,438.5 A4,4 0 0 1 870.5,434.5 Z" fill="rgba(251,211,150,0.55)"/>
<path d="M892.1,424.1 L913.6,424.1 A4,4 0 0 1 917.6,428.1 L917.6,455.1 A4,4 0 0 1 913.6,459.1 L908.5,459.1 L903.0,464.1 L897.5,459.1 L892.1,459.1 A4,4 0 0 1 888.1,455.1 L888.1,428.1 A4,4 0 0 1 892.1,424.1 Z" fill="rgba(251,211,150,0.55)"/>
<path d="M914.5,381.0 L936.0,381.0 A4,4 0 0 1 940.0,385.0 L940.0,412.0 A4,4 0 0 1 936.0,416.0 L930.5,416.0 L925.0,421.0 L919.5,416.0 L914.5,416.0 A4,4 0 0 1 910.5,412.0 L910.5,385.0 A4,4 0 0 1 914.5,381.0 Z" fill="rgba(251,211,150,0.55)"/>
<path d="M936.2,366.0 L957.8,366.0 A4,4 0 0 1 961.8,370.0 L961.8,397.0 A4,4 0 0 1 957.8,401.0 L952.5,401.0 L947.0,406.0 L941.5,401.0 L936.2,401.0 A4,4 0 0 1 932.2,397.0 L932.2,370.0 A4,4 0 0 1 936.2,366.0 Z" fill="rgba(251,211,150,0.55)"/>
<path d="M958.2,381.0 L979.8,381.0 A4,4 0 0 1 983.8,385.0 L983.8,412.0 A4,4 0 0 1 979.8,416.0 L974.5,416.0 L969.0,421.0 L963.5,416.0 L958.2,416.0 A4,4 0 0 1 954.2,412.0 L954.2,385.0 A4,4 0 0 1 958.2,381.0 Z" fill="rgba(251,211,150,0.55)"/>
<path d="M980.2,381.0 L1001.8,381.0 A4,4 0 0 1 1005.8,385.0 L1005.8,412.0 A4,4 0 0 1 1001.8,416.0 L996.5,416.0 L991.0,421.0 L985.5,416.0 L980.2,416.0 A4,4 0 0 1 976.2,412.0 L976.2,385.0 A4,4 0 0 1 980.2,381.0 Z" fill="rgba(251,211,150,0.55)"/>
<path d="M1002.2,366.0 L1023.8,366.0 A4,4 0 0 1 1027.8,370.0 L1027.8,397.0 A4,4 0 0 1 1023.8,401.0 L1018.5,401.0 L1013.0,406.0 L1007.5,401.0 L1002.2,401.0 A4,4 0 0 1 998.2,397.0 L998.2,370.0 A4,4 0 0 1 1002.2,366.0 Z" fill="rgba(110,190,100,0.52)"/>
<path d="M1446.7,378.7 L1447.5,378.7 L1453.0,373.7 L1458.5,378.7 L1459.7,378.7 A4,4 0 0 1 1463.7,382.7 L1463.7,409.7 A4,4 0 0 1 1459.7,413.7 L1446.7,413.7 A4,4 0 0 1 1442.7,409.7 L1442.7,382.7 A4,4 0 0 1 1446.7,378.7 Z" fill="rgba(251,211,150,0.55)"/>
<path d="M1464.5,419.5 L1469.5,419.5 L1475.0,414.5 L1480.5,419.5 L1486.0,419.5 A4,4 0 0 1 1490.0,423.5 L1490.0,450.5 A4,4 0 0 1 1486.0,454.5 L1464.5,454.5 A4,4 0 0 1 1460.5,450.5 L1460.5,423.5 A4,4 0 0 1 1464.5,419.5 Z" fill="rgba(251,211,150,0.55)"/>
<path d="M1486.7,440.3 L1491.5,440.3 L1497.0,435.3 L1502.5,440.3 L1508.2,440.3 A4,4 0 0 1 1512.2,444.3 L1512.2,471.3 A4,4 0 0 1 1508.2,475.3 L1486.7,475.3 A4,4 0 0 1 1482.7,471.3 L1482.7,444.3 A4,4 0 0 1 1486.7,440.3 Z" fill="rgba(251,211,150,0.55)"/>
<path d="M1508.5,469.3 L1513.5,469.3 L1519.0,464.3 L1524.5,469.3 L1530.0,469.3 A4,4 0 0 1 1534.0,473.3 L1534.0,500.3 A4,4 0 0 1 1530.0,504.3 L1508.5,504.3 A4,4 0 0 1 1504.5,500.3 L1504.5,473.3 A4,4 0 0 1 1508.5,469.3 Z" fill="rgba(251,211,150,0.55)"/>
<path d="M1530.5,456.5 L1535.5,456.5 L1541.0,451.5 L1546.5,456.5 L1552.0,456.5 A4,4 0 0 1 1556.0,460.5 L1556.0,487.5 A4,4 0 0 1 1552.0,491.5 L1530.5,491.5 A4,4 0 0 1 1526.5,487.5 L1526.5,460.5 A4,4 0 0 1 1530.5,456.5 Z" fill="rgba(251,211,150,0.55)"/>
<path d="M1552.2,529.5 L1557.5,529.5 L1563.0,524.5 L1568.5,529.5 L1573.8,529.5 A4,4 0 0 1 1577.8,533.5 L1577.8,560.5 A4,4 0 0 1 1573.8,564.5 L1552.2,564.5 A4,4 0 0 1 1548.2,560.5 L1548.2,533.5 A4,4 0 0 1 1552.2,529.5 Z" fill="rgba(251,211,150,0.55)"/>
<path d="M1574.2,565.3 L1579.5,565.3 L1585.0,560.3 L1590.5,565.3 L1595.8,565.3 A4,4 0 0 1 1599.8,569.3 L1599.8,596.3 A4,4 0 0 1 1595.8,600.3 L1574.2,600.3 A4,4 0 0 1 1570.2,596.3 L1570.2,569.3 A4,4 0 0 1 1574.2,565.3 Z" fill="rgba(251,211,150,0.55)"/>
<path d="M1596.2,544.5 L1601.5,544.5 L1607.0,539.5 L1612.5,544.5 L1617.8,544.5 A4,4 0 0 1 1621.8,548.5 L1621.8,575.5 A4,4 0 0 1 1617.8,579.5 L1596.2,579.5 A4,4 0 0 1 1592.2,575.5 L1592.2,548.5 A4,4 0 0 1 1596.2,544.5 Z" fill="rgba(251,211,150,0.55)"/>
<path d="M1618.2,542.0 L1623.5,542.0 L1629.0,537.0 L1634.5,542.0 L1639.8,542.0 A4,4 0 0 1 1643.8,546.0 L1643.8,573.0 A4,4 0 0 1 1639.8,577.0 L1618.2,577.0 A4,4 0 0 1 1614.2,573.0 L1614.2,546.0 A4,4 0 0 1 1618.2,542.0 Z" fill="rgba(236,115,135,0.5)"/>
<text x="140.0" y="394.8" font-size="26.0" fill="#eda232" text-anchor="middle" stroke="#eda232" stroke-width="0.80" stroke-linejoin="round">7</text>
<text x="155.2" y="382.0" font-size="26.0" fill="#eda232" text-anchor="middle" stroke="#eda232" stroke-width="0.80" stroke-linejoin="round">8</text>
<text x="177.2" y="395.5" font-size="26.0" fill="#0f9a16" text-anchor="middle" stroke="#0f9a16" stroke-width="0.80" stroke-linejoin="round">9</text>
<text x="506.9" y="437.0" font-size="26.0" fill="#eda232" text-anchor="middle" stroke="#eda232" stroke-width="0.80" stroke-linejoin="round">1</text>
<text x="529.5" y="456.0" font-size="26.0" fill="#eda232" text-anchor="middle" stroke="#eda232" stroke-width="0.80" stroke-linejoin="round">2</text>
<text x="551.5" y="551.0" font-size="26.0" fill="#eda232" text-anchor="middle" stroke="#eda232" stroke-width="0.80" stroke-linejoin="round">3</text>
<text x="573.3" y="574.6" font-size="26.0" fill="#eda232" text-anchor="middle" stroke="#eda232" stroke-width="0.80" stroke-linejoin="round">4</text>
<text x="595.5" y="589.0" font-size="26.0" fill="#eda232" text-anchor="middle" stroke="#eda232" stroke-width="0.80" stroke-linejoin="round">5</text>
<text x="617.0" y="573.6" font-size="26.0" fill="#eda232" text-anchor="middle" stroke="#eda232" stroke-width="0.80" stroke-linejoin="round">6</text>
<text x="639.2" y="617.4" font-size="26.0" fill="#eda232" text-anchor="middle" stroke="#eda232" stroke-width="0.80" stroke-linejoin="round">7</text>
<text x="661.0" y="484.0" font-size="26.0" fill="#eda232" text-anchor="middle" stroke="#eda232" stroke-width="0.80" stroke-linejoin="round">8</text>
<text x="682.7" y="461.6" font-size="26.0" fill="#dd2f45" text-anchor="middle" stroke="#dd2f45" stroke-width="0.80" stroke-linejoin="round">9</text>
<text x="837.3" y="506.0" font-size="26.0" fill="#eda232" text-anchor="middle" stroke="#eda232" stroke-width="0.80" stroke-linejoin="round">1</text>
<text x="859.3" y="470.3" font-size="26.0" fill="#eda232" text-anchor="middle" stroke="#eda232" stroke-width="0.80" stroke-linejoin="round">2</text>
<text x="881.3" y="464.5" font-size="26.0" fill="#eda232" text-anchor="middle" stroke="#eda232" stroke-width="0.80" stroke-linejoin="round">3</text>
<text x="902.9" y="454.1" font-size="26.0" fill="#eda232" text-anchor="middle" stroke="#eda232" stroke-width="0.80" stroke-linejoin="round">4</text>
<text x="925.3" y="411.0" font-size="26.0" fill="#eda232" text-anchor="middle" stroke="#eda232" stroke-width="0.80" stroke-linejoin="round">5</text>
<text x="947.0" y="396.0" font-size="26.0" fill="#eda232" text-anchor="middle" stroke="#eda232" stroke-width="0.80" stroke-linejoin="round">6</text>
<text x="969.0" y="411.0" font-size="26.0" fill="#eda232" text-anchor="middle" stroke="#eda232" stroke-width="0.80" stroke-linejoin="round">7</text>
<text x="991.0" y="411.0" font-size="26.0" fill="#eda232" text-anchor="middle" stroke="#eda232" stroke-width="0.80" stroke-linejoin="round">8</text>
<text x="1013.0" y="396.0" font-size="26.0" fill="#0f9a16" text-anchor="middle" stroke="#0f9a16" stroke-width="0.80" stroke-linejoin="round">9</text>
<text x="1453.2" y="408.7" font-size="26.0" fill="#eda232" text-anchor="middle" stroke="#eda232" stroke-width="0.80" stroke-linejoin="round">1</text>
<text x="1475.2" y="449.5" font-size="26.0" fill="#eda232" text-anchor="middle" stroke="#eda232" stroke-width="0.80" stroke-linejoin="round">2</text>
<text x="1497.4" y="470.3" font-size="26.0" fill="#eda232" text-anchor="middle" stroke="#eda232" stroke-width="0.80" stroke-linejoin="round">3</text>
<text x="1519.2" y="499.3" font-size="26.0" fill="#eda232" text-anchor="middle" stroke="#eda232" stroke-width="0.80" stroke-linejoin="round">4</text>
<text x="1541.2" y="486.5" font-size="26.0" fill="#eda232" text-anchor="middle" stroke="#eda232" stroke-width="0.80" stroke-linejoin="round">5</text>
<text x="1563.0" y="559.5" font-size="26.0" fill="#eda232" text-anchor="middle" stroke="#eda232" stroke-width="0.80" stroke-linejoin="round">6</text>
<text x="1585.0" y="595.3" font-size="26.0" fill="#eda232" text-anchor="middle" stroke="#eda232" stroke-width="0.80" stroke-linejoin="round">7</text>
<text x="1607.0" y="574.5" font-size="26.0" fill="#eda232" text-anchor="middle" stroke="#eda232" stroke-width="0.80" stroke-linejoin="round">8</text>
<text x="1629.0" y="572.0" font-size="26.0" fill="#dd2f45" text-anchor="middle" stroke="#dd2f45" stroke-width="0.80" stroke-linejoin="round">9</text>
<g stroke="#000" stroke-width="2.3" fill="none" stroke-linecap="round"><line x1="155.5" y1="233.5" x2="200.5" y2="233.5"/><path d="M170.5,225 L155.5,233.5 L170.5,242"/></g>
<text x="221.0" y="252.6" font-size="29.7" fill="#000" textLength="54.0" lengthAdjust="spacingAndGlyphs">5.77</text>
<g stroke="#000" stroke-width="2.3" fill="none" stroke-linecap="round"><line x1="815.5" y1="660.2" x2="860.5" y2="660.2"/><path d="M831,651.5 L815.5,660.2 L831,668.8"/></g>
<text x="881.0" y="668.0" font-size="29.5" fill="#000" textLength="56.5" lengthAdjust="spacingAndGlyphs">5.24</text>
<text x="937.0" y="661.5" font-size="33.0" fill="#e0303c" textLength="17.5" lengthAdjust="spacingAndGlyphs" stroke="#e0303c" stroke-width="0.90" stroke-linejoin="round">q</text>
<g stroke="#e0303c" stroke-width="2.3" fill="none" stroke-linecap="round"><line x1="931.5" y1="678" x2="963" y2="678"/><path d="M942,672 L931.5,678 L942,684"/></g>
<path d="M1680,569 L1712.6,575.6 L1712.6,639.3 L1680,649.6 Z" fill="#ebf1fb"/>
<g stroke="#3f7fd0" stroke-width="2.2" fill="none" stroke-linecap="round" stroke-linejoin="round"><path d="M1687,599.5 L1695,608 L1687,616.5"/><path d="M1697,599.5 L1705,608 L1697,616.5"/></g>
<text x="122.5" y="724.6" font-size="33.6" fill="#444" textLength="173.0" lengthAdjust="spacingAndGlyphs">2023/05/10</text>
<text x="1507.0" y="725.4" font-size="33.6" fill="#444" textLength="173.0" lengthAdjust="spacingAndGlyphs">2023/08/17</text>
<rect x="123" y="734.3" width="1555" height="228" fill="none" stroke="#e3e3e3" stroke-width="1.5"/>
<line x1="124" y1="848" x2="1677" y2="848" stroke="#e2e2e2" stroke-width="1.5" stroke-dasharray="5,3"/>
<line x1="511.5" y1="735" x2="511.5" y2="962" stroke="#e0e0e0" stroke-width="1.5" stroke-dasharray="3,5"/>
<line x1="900.5" y1="735" x2="900.5" y2="962" stroke="#e0e0e0" stroke-width="1.5" stroke-dasharray="3,5"/>
<line x1="1289.5" y1="735" x2="1289.5" y2="962" stroke="#e0e0e0" stroke-width="1.5" stroke-dasharray="3,5"/>
<line x1="133.0" y1="873.5" x2="133.0" y2="788.5" stroke="#d8404a" stroke-width="2.6"/>
<line x1="155.0" y1="873.5" x2="155.0" y2="789.0" stroke="#d8404a" stroke-width="2.6"/>
<line x1="177.0" y1="873.5" x2="177.0" y2="799.2" stroke="#d8404a" stroke-width="2.6"/>
<line x1="199.0" y1="873.5" x2="199.0" y2="807.0" stroke="#d8404a" stroke-width="2.6"/>
<line x1="221.0" y1="873.5" x2="221.0" y2="815.5" stroke="#d8404a" stroke-width="2.6"/>
<line x1="243.0" y1="873.5" x2="243.0" y2="825.4" stroke="#d8404a" stroke-width="2.6"/>
<line x1="265.0" y1="873.5" x2="265.0" y2="827.0" stroke="#d8404a" stroke-width="2.6"/>
<line x1="287.0" y1="873.5" x2="287.0" y2="848.5" stroke="#d8404a" stroke-width="2.6"/>
<line x1="309.0" y1="873.5" x2="309.0" y2="858.6" stroke="#d8404a" stroke-width="2.6"/>
<line x1="331.0" y1="873.5" x2="331.0" y2="877.0" stroke="#3f9a2c" stroke-width="2.6"/>
<line x1="353.0" y1="873.5" x2="353.0" y2="889.4" stroke="#3f9a2c" stroke-width="2.6"/>
<line x1="375.0" y1="873.5" x2="375.0" y2="888.5" stroke="#3f9a2c" stroke-width="2.6"/>
<line x1="397.0" y1="873.5" x2="397.0" y2="894.6" stroke="#3f9a2c" stroke-width="2.6"/>
<line x1="419.0" y1="873.5" x2="419.0" y2="891.5" stroke="#3f9a2c" stroke-width="2.6"/>
<line x1="441.0" y1="873.5" x2="441.0" y2="878.3" stroke="#3f9a2c" stroke-width="2.6"/>
<line x1="463.0" y1="873.5" x2="463.0" y2="882.3" stroke="#3f9a2c" stroke-width="2.6"/>
<line x1="485.0" y1="873.5" x2="485.0" y2="888.5" stroke="#3f9a2c" stroke-width="2.6"/>
<line x1="507.0" y1="873.5" x2="507.0" y2="890.6" stroke="#3f9a2c" stroke-width="2.6"/>
<line x1="529.0" y1="873.5" x2="529.0" y2="884.5" stroke="#3f9a2c" stroke-width="2.6"/>
<line x1="551.0" y1="873.5" x2="551.0" y2="909.0" stroke="#3f9a2c" stroke-width="2.6"/>
<line x1="573.0" y1="873.5" x2="573.0" y2="923.0" stroke="#3f9a2c" stroke-width="2.6"/>
<line x1="595.0" y1="873.5" x2="595.0" y2="919.0" stroke="#3f9a2c" stroke-width="2.6"/>
<line x1="617.0" y1="873.5" x2="617.0" y2="920.8" stroke="#3f9a2c" stroke-width="2.6"/>
<line x1="639.0" y1="873.5" x2="639.0" y2="936.8" stroke="#3f9a2c" stroke-width="2.6"/>
<line x1="661.0" y1="873.5" x2="661.0" y2="944.8" stroke="#3f9a2c" stroke-width="2.6"/>
<line x1="683.0" y1="873.5" x2="683.0" y2="941.7" stroke="#3f9a2c" stroke-width="2.6"/>
<line x1="705.0" y1="873.5" x2="705.0" y2="936.8" stroke="#3f9a2c" stroke-width="2.6"/>
<line x1="727.0" y1="873.5" x2="727.0" y2="931.5" stroke="#3f9a2c" stroke-width="2.6"/>
<line x1="749.0" y1="873.5" x2="749.0" y2="927.5" stroke="#3f9a2c" stroke-width="2.6"/>
<line x1="771.0" y1="873.5" x2="771.0" y2="926.3" stroke="#3f9a2c" stroke-width="2.6"/>
<line x1="793.0" y1="873.5" x2="793.0" y2="923.0" stroke="#3f9a2c" stroke-width="2.6"/>
<line x1="815.0" y1="873.5" x2="815.0" y2="915.0" stroke="#3f9a2c" stroke-width="2.6"/>
<line x1="837.0" y1="873.5" x2="837.0" y2="897.7" stroke="#3f9a2c" stroke-width="2.6"/>
<line x1="859.0" y1="873.5" x2="859.0" y2="877.0" stroke="#3f9a2c" stroke-width="2.6"/>
<line x1="881.0" y1="873.5" x2="881.0" y2="867.0" stroke="#d8404a" stroke-width="2.6"/>
<line x1="903.0" y1="873.5" x2="903.0" y2="853.5" stroke="#d8404a" stroke-width="2.6"/>
<line x1="925.0" y1="873.5" x2="925.0" y2="838.0" stroke="#d8404a" stroke-width="2.6"/>
<line x1="947.0" y1="873.5" x2="947.0" y2="829.6" stroke="#d8404a" stroke-width="2.6"/>
<line x1="969.0" y1="873.5" x2="969.0" y2="822.7" stroke="#d8404a" stroke-width="2.6"/>
<line x1="991.0" y1="873.5" x2="991.0" y2="817.0" stroke="#d8404a" stroke-width="2.6"/>
<line x1="1013.0" y1="873.5" x2="1013.0" y2="818.0" stroke="#d8404a" stroke-width="2.6"/>
<line x1="1035.0" y1="873.5" x2="1035.0" y2="823.8" stroke="#d8404a" stroke-width="2.6"/>
<line x1="1057.0" y1="873.5" x2="1057.0" y2="823.8" stroke="#d8404a" stroke-width="2.6"/>
<line x1="1079.0" y1="873.5" x2="1079.0" y2="827.7" stroke="#d8404a" stroke-width="2.6"/>
<line x1="1101.0" y1="873.5" x2="1101.0" y2="827.7" stroke="#d8404a" stroke-width="2.6"/>
<line x1="1123.0" y1="873.5" x2="1123.0" y2="828.5" stroke="#d8404a" stroke-width="2.6"/>
<line x1="1145.0" y1="873.5" x2="1145.0" y2="823.8" stroke="#d8404a" stroke-width="2.6"/>
<line x1="1167.0" y1="873.5" x2="1167.0" y2="829.6" stroke="#d8404a" stroke-width="2.6"/>
<line x1="1189.0" y1="873.5" x2="1189.0" y2="826.5" stroke="#d8404a" stroke-width="2.6"/>
<line x1="1211.0" y1="873.5" x2="1211.0" y2="833.5" stroke="#d8404a" stroke-width="2.6"/>
<line x1="1233.0" y1="873.5" x2="1233.0" y2="842.0" stroke="#d8404a" stroke-width="2.6"/>
<line x1="1255.0" y1="873.5" x2="1255.0" y2="848.5" stroke="#d8404a" stroke-width="2.6"/>
<line x1="1277.0" y1="873.5" x2="1277.0" y2="850.8" stroke="#d8404a" stroke-width="2.6"/>
<line x1="1299.0" y1="873.5" x2="1299.0" y2="842.0" stroke="#d8404a" stroke-width="2.6"/>
<line x1="1321.0" y1="873.5" x2="1321.0" y2="843.8" stroke="#d8404a" stroke-width="2.6"/>
<line x1="1343.0" y1="873.5" x2="1343.0" y2="843.0" stroke="#d8404a" stroke-width="2.6"/>
<line x1="1365.0" y1="873.5" x2="1365.0" y2="839.2" stroke="#d8404a" stroke-width="2.6"/>
<line x1="1387.0" y1="873.5" x2="1387.0" y2="838.0" stroke="#d8404a" stroke-width="2.6"/>
<line x1="1409.0" y1="873.5" x2="1409.0" y2="840.0" stroke="#d8404a" stroke-width="2.6"/>
<line x1="1431.0" y1="873.5" x2="1431.0" y2="842.7" stroke="#d8404a" stroke-width="2.6"/>
<line x1="1453.0" y1="873.5" x2="1453.0" y2="853.5" stroke="#d8404a" stroke-width="2.6"/>
<line x1="1475.0" y1="873.5" x2="1475.0" y2="867.7" stroke="#d8404a" stroke-width="2.6"/>
<line x1="1497.0" y1="873.5" x2="1497.0" y2="883.0" stroke="#3f9a2c" stroke-width="2.6"/>
<line x1="1519.0" y1="873.5" x2="1519.0" y2="899.6" stroke="#3f9a2c" stroke-width="2.6"/>
<line x1="1541.0" y1="873.5" x2="1541.0" y2="908.5" stroke="#3f9a2c" stroke-width="2.6"/>
<line x1="1563.0" y1="873.5" x2="1563.0" y2="923.8" stroke="#3f9a2c" stroke-width="2.6"/>
<line x1="1585.0" y1="873.5" x2="1585.0" y2="928.5" stroke="#3f9a2c" stroke-width="2.6"/>
<line x1="1607.0" y1="873.5" x2="1607.0" y2="927.7" stroke="#3f9a2c" stroke-width="2.6"/>
<line x1="1629.0" y1="873.5" x2="1629.0" y2="930.4" stroke="#3f9a2c" stroke-width="2.6"/>
<line x1="1651.0" y1="873.5" x2="1651.0" y2="915.0" stroke="#3f9a2c" stroke-width="2.6"/>
<path d="M133.0,887.0 C135.2,885.9 151.0,878.0 155.4,876.0 C159.8,874.0 173.1,869.1 177.5,867.5 C181.9,865.9 195.0,861.5 199.4,860.0 C203.8,858.5 217.1,853.5 221.5,852.0 C225.9,850.5 239.0,846.0 243.4,844.8 C247.8,843.6 261.1,840.7 265.5,839.8 C269.9,838.9 283.0,836.5 287.4,836.0 C291.8,835.5 305.1,834.7 309.5,834.6 C313.9,834.5 327.0,834.9 331.4,835.2 C335.8,835.5 348.8,837.3 353.2,837.7 C357.6,838.1 371.0,838.8 375.4,839.2 C379.8,839.6 392.8,840.9 397.2,841.4 C401.6,841.9 415.0,843.4 419.4,843.8 C423.8,844.2 437.1,845.1 441.5,845.4 C445.9,845.6 459.0,846.0 463.4,846.3 C467.8,846.6 480.8,848.1 485.2,848.5 C489.6,848.9 503.0,849.7 507.4,850.0 C511.8,850.3 524.8,850.9 529.2,851.5 C533.6,852.1 546.6,854.9 551.0,856.0 C555.4,857.1 568.8,861.0 573.2,862.3 C577.6,863.5 590.6,867.3 595.0,868.5 C599.4,869.7 612.8,873.1 617.2,874.6 C621.6,876.1 634.6,882.0 639.0,883.8 C643.4,885.6 656.6,891.1 661.0,893.0 C665.4,894.9 678.6,900.7 683.0,902.3 C687.4,903.9 700.6,907.5 705.0,909.0 C709.4,910.5 722.6,915.5 727.0,917.0 C731.4,918.5 744.8,922.5 749.2,923.8 C753.6,925.1 766.6,928.8 771.0,930.0 C775.4,931.2 788.8,935.1 793.2,936.0 C797.6,936.9 811.0,938.3 815.4,939.0 C819.8,939.7 833.0,942.4 837.3,943.0 C841.6,943.6 854.4,944.5 858.8,944.6 C863.2,944.7 876.8,944.2 881.2,943.8 C885.6,943.4 898.6,941.7 903.0,941.0 C907.4,940.3 921.0,937.9 925.4,937.0 C929.8,936.1 942.9,933.3 947.3,932.3 C951.7,931.2 965.2,927.8 969.6,926.5 C974.0,925.2 987.1,921.0 991.5,919.6 C995.9,918.2 1009.1,913.7 1013.5,912.3 C1017.9,910.9 1031.0,907.3 1035.4,906.0 C1039.8,904.7 1052.9,900.9 1057.3,899.6 C1061.7,898.3 1075.2,894.3 1079.6,893.0 C1084.0,891.7 1097.1,888.2 1101.5,887.0 C1105.9,885.8 1119.1,882.2 1123.5,881.0 C1127.9,879.8 1141.0,875.8 1145.4,874.6 C1149.8,873.4 1163.3,869.9 1167.7,868.8 C1172.1,867.7 1185.2,864.8 1189.6,863.8 C1194.0,862.8 1207.1,860.0 1211.5,859.2 C1215.9,858.4 1229.1,856.1 1233.5,855.4 C1237.9,854.7 1251.0,852.9 1255.4,852.3 C1259.8,851.7 1272.9,850.2 1277.3,849.6 C1281.7,849.0 1294.8,846.6 1299.2,845.8 C1303.6,845.0 1317.1,842.8 1321.5,842.0 C1325.9,841.2 1339.1,838.8 1343.5,838.0 C1347.9,837.2 1361.0,835.1 1365.4,834.2 C1369.8,833.3 1382.9,830.1 1387.3,829.2 C1391.7,828.3 1404.8,826.0 1409.2,825.4 C1413.6,824.8 1426.8,823.2 1431.2,822.7 C1435.6,822.2 1448.6,821.0 1453.0,820.8 C1457.4,820.6 1471.0,820.6 1475.4,820.8 C1479.8,821.0 1492.9,822.2 1497.3,822.7 C1501.7,823.2 1514.8,824.8 1519.2,825.4 C1523.6,826.0 1537.1,827.9 1541.5,829.2 C1545.9,830.5 1559.1,836.4 1563.5,838.0 C1567.9,839.6 1581.0,843.6 1585.4,845.0 C1589.8,846.4 1602.9,850.3 1607.3,851.5 C1611.7,852.7 1624.8,856.3 1629.2,857.3 C1633.6,858.2 1649.0,860.6 1651.2,861.0" fill="none" stroke="#ef7a3e" stroke-width="2.6"/>
<path d="M133.0,845.4 C135.2,844.4 151.0,836.6 155.4,835.2 C159.8,833.8 173.1,832.0 177.5,831.0 C181.9,830.0 195.0,826.3 199.4,825.4 C203.8,824.5 217.1,823.1 221.5,822.3 C225.9,821.5 239.0,818.3 243.4,817.7 C247.8,817.1 261.1,815.4 265.5,816.0 C269.9,816.6 283.0,822.6 287.4,823.8 C291.8,824.9 305.1,826.1 309.5,827.5 C313.9,828.9 327.0,835.9 331.4,837.7 C335.8,839.5 348.8,844.5 353.2,845.4 C357.6,846.3 371.0,846.3 375.4,847.0 C379.8,847.7 392.8,851.8 397.2,852.5 C401.6,853.2 415.0,854.2 419.4,853.7 C423.8,853.2 437.1,847.7 441.5,847.5 C445.9,847.3 459.0,850.6 463.4,851.5 C467.8,852.4 480.8,855.3 485.2,856.0 C489.6,856.7 503.0,858.4 507.4,858.6 C511.8,858.8 524.8,856.1 529.2,857.7 C533.6,859.3 546.6,871.7 551.0,874.6 C555.4,877.5 568.8,884.8 573.2,887.0 C577.6,889.2 590.6,895.1 595.0,896.8 C599.4,898.5 612.8,901.7 617.2,903.8 C621.6,905.9 634.6,915.2 639.0,917.7 C643.4,920.2 656.6,926.8 661.0,928.5 C665.4,930.2 678.6,933.4 683.0,934.6 C687.4,935.8 700.6,939.8 705.0,940.8 C709.4,941.8 722.6,943.9 727.0,944.8 C731.4,945.7 744.8,948.9 749.2,950.0 C753.6,951.1 766.6,954.9 771.0,956.0 C775.4,957.1 788.8,960.2 793.2,960.8 C797.6,961.4 811.0,962.4 815.4,962.0 C819.8,961.6 833.0,957.9 837.3,956.5 C841.6,955.1 854.4,950.0 858.8,948.5 C863.2,947.0 876.8,943.6 881.2,942.0 C885.6,940.4 898.6,934.5 903.0,932.3 C907.4,930.1 921.0,922.1 925.4,920.0 C929.8,917.9 942.9,912.9 947.3,911.0 C951.7,909.1 965.2,903.5 969.6,901.5 C974.0,899.5 987.1,892.4 991.5,890.8 C995.9,889.1 1009.1,886.0 1013.5,885.0 C1017.9,884.0 1031.0,882.0 1035.4,881.0 C1039.8,880.0 1052.9,876.4 1057.3,875.4 C1061.7,874.4 1075.2,872.4 1079.6,871.5 C1084.0,870.6 1097.1,867.0 1101.5,866.0 C1105.9,865.0 1119.1,862.2 1123.5,861.0 C1127.9,859.8 1141.0,854.6 1145.4,853.5 C1149.8,852.4 1163.3,850.6 1167.7,849.6 C1172.1,848.6 1185.2,843.9 1189.6,843.0 C1194.0,842.1 1207.1,841.1 1211.5,841.0 C1215.9,840.9 1229.1,841.9 1233.5,842.0 C1237.9,842.1 1251.0,842.2 1255.4,842.0 C1259.8,841.8 1272.9,841.0 1277.3,840.0 C1281.7,839.0 1294.8,833.4 1299.2,832.3 C1303.6,831.2 1317.1,830.0 1321.5,829.2 C1325.9,828.4 1339.1,825.6 1343.5,824.6 C1347.9,823.6 1361.0,819.9 1365.4,818.8 C1369.8,817.7 1382.9,814.6 1387.3,813.8 C1391.7,813.0 1404.8,811.6 1409.2,811.0 C1413.6,810.4 1426.8,807.3 1431.2,807.3 C1435.6,807.3 1448.6,810.0 1453.0,811.0 C1457.4,812.0 1471.0,816.3 1475.4,817.7 C1479.8,819.1 1492.9,823.4 1497.3,825.4 C1501.7,827.4 1514.8,835.8 1519.2,838.0 C1523.6,840.2 1537.1,845.4 1541.5,847.7 C1545.9,850.0 1559.1,858.8 1563.5,861.0 C1567.9,863.2 1581.0,868.5 1585.4,870.0 C1589.8,871.5 1602.9,874.3 1607.3,875.8 C1611.7,877.3 1624.8,884.8 1629.2,885.4 C1633.6,886.0 1649.0,881.9 1651.2,881.5" fill="none" stroke="#222" stroke-width="2.6"/>
<text x="134.0" y="781.7" font-size="39.5" fill="#2f9a2a" textLength="231.0" lengthAdjust="spacingAndGlyphs">MACD:−0.04</text>
<text x="384.0" y="781.7" font-size="39.5" fill="#222" textLength="194.0" lengthAdjust="spacingAndGlyphs">DIFF:−0.01</text>
<text x="596.0" y="781.7" font-size="39.5" fill="#ef7a3e" textLength="189.5" lengthAdjust="spacingAndGlyphs">DEA:+0.01</text>
<text x="1667.5" y="774.8" font-size="30.7" fill="#555" text-anchor="end" textLength="66.5" lengthAdjust="spacingAndGlyphs">0.08</text>
<circle cx="246" cy="823.8" r="44.6" fill="rgba(155,155,155,0.5)"/>
<circle cx="472.3" cy="823" r="45" fill="rgba(155,155,155,0.5)"/>
<g stroke="#fff" stroke-width="3" fill="none" stroke-linecap="round" stroke-linejoin="round" opacity="0.9"><line x1="220" y1="823.8" x2="275" y2="823.8"/><path d="M243,800 L220,823.8 L243,847.5"/><line x1="445" y1="823" x2="500" y2="823"/><path d="M477,799.5 L500,823 L477,846.5"/></g>
<line x1="101" y1="986" x2="1680" y2="986" stroke="#ececec" stroke-width="1.5"/>
<text x="191.0" y="1048.0" font-size="38.5" fill="#333333" stroke="#333333" stroke-width="0.50" stroke-linejoin="round">分时</text>
<text x="463.0" y="1048.0" font-size="38.5" fill="#333333" stroke="#333333" stroke-width="0.50" stroke-linejoin="round">5日</text>
<text x="724.5" y="1048.0" font-size="38.5" fill="#e1333c" stroke="#e1333c" stroke-width="0.50" stroke-linejoin="round">日K</text>
<rect x="692" y="1074.5" width="128" height="5.5" fill="#e1333c"/>
<text x="987.0" y="1048.0" font-size="38.5" fill="#333333" stroke="#333333" stroke-width="0.50" stroke-linejoin="round">周K</text>
<text x="1251.0" y="1048.0" font-size="38.5" fill="#333333" stroke="#333333" stroke-width="0.50" stroke-linejoin="round">月K</text>
<text x="1487.0" y="1048.0" font-size="39.5" fill="#333333" stroke="#333333" stroke-width="0.50" stroke-linejoin="round">更多</text>
<path d="M1646,1040 L1658.8,1027.4 L1671.7,1040 Z" fill="#9a9a9a"/>
<path d="M1737.8,1080 V208 H2209" fill="none" stroke="#c4c4c4" stroke-width="1.3"/>
<line x1="1738" y1="697.5" x2="2209" y2="697.5" stroke="#e3e3e3" stroke-width="1.3"/>
<rect x="1738" y="219.40" width="117.0" height="2.8" fill="#4a82c6"/>
<rect x="1738" y="226.53" width="114.6" height="2.8" fill="#4a82c6"/>
<rect x="1738" y="233.65" width="126.7" height="2.8" fill="#4a82c6"/>
<rect x="1738" y="240.78" width="153.8" height="2.8" fill="#4a82c6"/>
<rect x="1738" y="247.90" width="162.6" height="2.8" fill="#4a82c6"/>
<rect x="1738" y="255.03" width="174.6" height="2.8" fill="#4a82c6"/>
<rect x="1738" y="262.16" width="199.0" height="2.8" fill="#4a82c6"/>
<rect x="1738" y="269.28" width="201.2" height="2.8" fill="#4a82c6"/>
<rect x="1738" y="276.41" width="206.0" height="2.8" fill="#4a82c6"/>
<rect x="1738" y="283.53" width="210.5" height="2.8" fill="#4a82c6"/>
<rect x="1738" y="290.66" width="241.7" height="2.8" fill="#4a82c6"/>
<rect x="1738" y="297.79" width="279.0" height="2.8" fill="#4a82c6"/>
<rect x="1738" y="304.91" width="322.0" height="2.8" fill="#4a82c6"/>
<rect x="1738" y="312.04" width="376.0" height="2.8" fill="#4a82c6"/>
<rect x="1738" y="319.16" width="402.0" height="2.8" fill="#4a82c6"/>
<rect x="1738" y="326.29" width="402.6" height="2.8" fill="#4a82c6"/>
<rect x="1738" y="333.42" width="389.9" height="2.8" fill="#4a82c6"/>
<rect x="1738" y="340.54" width="401.4" height="2.8" fill="#e6b236"/>
<rect x="1738" y="347.67" width="430.6" height="2.8" fill="#4a82c6"/>
<rect x="1738" y="354.79" width="455.4" height="2.8" fill="#4a82c6"/>
<rect x="1738" y="361.92" width="472.0" height="2.8" fill="#4a82c6"/>
<rect x="1738" y="369.05" width="446.0" height="2.8" fill="#4a82c6"/>
<rect x="1738" y="376.17" width="408.0" height="2.8" fill="#4a82c6"/>
<rect x="1738" y="383.30" width="367.0" height="2.8" fill="#4a82c6"/>
<rect x="1738" y="390.42" width="338.5" height="2.8" fill="#4a82c6"/>
<rect x="1738" y="397.55" width="349.6" height="2.8" fill="#4a82c6"/>
<rect x="1738" y="404.68" width="284.5" height="2.8" fill="#4a82c6"/>
<rect x="1738" y="411.80" width="311.0" height="2.8" fill="#4a82c6"/>
<rect x="1738" y="418.93" width="350.7" height="2.8" fill="#cf3b42"/>
<rect x="1738" y="426.05" width="347.0" height="2.8" fill="#cf3b42"/>
<rect x="1738" y="433.18" width="385.0" height="2.8" fill="#cf3b42"/>
<rect x="1738" y="440.31" width="398.2" height="2.8" fill="#cf3b42"/>
<rect x="1738" y="447.43" width="395.0" height="2.8" fill="#cf3b42"/>
<rect x="1738" y="454.56" width="365.8" height="2.8" fill="#cf3b42"/>
<rect x="1738" y="461.68" width="383.2" height="2.8" fill="#cf3b42"/>
<rect x="1738" y="468.81" width="432.0" height="2.8" fill="#cf3b42"/>
<rect x="1738" y="475.94" width="459.5" height="2.8" fill="#cf3b42"/>
<rect x="1738" y="483.06" width="410.0" height="2.8" fill="#cf3b42"/>
<rect x="1738" y="490.19" width="359.0" height="2.8" fill="#cf3b42"/>
<rect x="1738" y="497.31" width="290.8" height="2.8" fill="#cf3b42"/>
<rect x="1738" y="504.44" width="247.5" height="2.8" fill="#cf3b42"/>
<rect x="1738" y="511.57" width="225.2" height="2.8" fill="#cf3b42"/>
<rect x="1738" y="518.69" width="239.0" height="2.8" fill="#cf3b42"/>
<rect x="1738" y="525.82" width="240.0" height="2.8" fill="#cf3b42"/>
<rect x="1738" y="532.94" width="207.5" height="2.8" fill="#cf3b42"/>
<rect x="1738" y="540.07" width="195.0" height="2.8" fill="#cf3b42"/>
<rect x="1738" y="547.20" width="178.2" height="2.8" fill="#cf3b42"/>
<rect x="1738" y="554.32" width="162.5" height="2.8" fill="#cf3b42"/>
<rect x="1738" y="561.45" width="141.5" height="2.8" fill="#cf3b42"/>
<rect x="1738" y="568.57" width="119.0" height="2.8" fill="#cf3b42"/>
<rect x="1738" y="575.70" width="129.5" height="2.8" fill="#cf3b42"/>
<rect x="1738" y="582.83" width="125.8" height="2.8" fill="#cf3b42"/>
<rect x="1738" y="589.95" width="87.8" height="2.8" fill="#cf3b42"/>
<rect x="1738" y="597.08" width="79.0" height="2.8" fill="#cf3b42"/>
<rect x="1738" y="604.20" width="101.5" height="2.8" fill="#cf3b42"/>
<rect x="1738" y="611.33" width="94.5" height="2.8" fill="#cf3b42"/>
<rect x="1738" y="618.46" width="65.0" height="2.8" fill="#cf3b42"/>
<rect x="1738" y="625.58" width="34.5" height="2.8" fill="#cf3b42"/>
<rect x="1738" y="632.71" width="22.0" height="2.8" fill="#cf3b42"/>
<rect x="1738" y="639.83" width="9.5" height="2.8" fill="#cf3b42"/>
<rect x="1738" y="646.96" width="8.2" height="2.8" fill="#cf3b42"/>
<rect x="1738" y="654.09" width="13.8" height="2.8" fill="#cf3b42"/>
<rect x="1738" y="661.21" width="18.8" height="2.8" fill="#cf3b42"/>
<rect x="1738" y="668.34" width="23.8" height="2.8" fill="#cf3b42"/>
<rect x="1738" y="675.46" width="30.8" height="2.8" fill="#cf3b42"/>
<rect x="1738" y="682.59" width="25.0" height="2.8" fill="#cf3b42"/>
<text x="2205.5" y="239.9" font-size="26.0" fill="#333" text-anchor="end" textLength="50.0" lengthAdjust="spacingAndGlyphs" stroke="#333" stroke-width="0.30" stroke-linejoin="round">5.83</text>
<text x="2205.5" y="341.5" font-size="26.0" fill="#333" text-anchor="end" textLength="50.0" lengthAdjust="spacingAndGlyphs" stroke="#333" stroke-width="0.30" stroke-linejoin="round">5.67</text>
<text x="2205.5" y="461.0" font-size="26.0" fill="#333" text-anchor="end" textLength="46.5" lengthAdjust="spacingAndGlyphs" stroke="#333" stroke-width="0.30" stroke-linejoin="round">5.51</text>
<text x="2205.5" y="580.0" font-size="26.0" fill="#333" text-anchor="end" textLength="51.0" lengthAdjust="spacingAndGlyphs" stroke="#333" stroke-width="0.30" stroke-linejoin="round">5.34</text>
<text x="2205.5" y="681.8" font-size="26.0" fill="#333" text-anchor="end" textLength="47.5" lengthAdjust="spacingAndGlyphs" stroke="#333" stroke-width="0.30" stroke-linejoin="round">5.18</text>
<text x="1758.0" y="733.0" font-size="32.0" fill="#d93a40" stroke="#d93a40" stroke-width="0.50" stroke-linejoin="round">收盘获利</text>
<text x="1911.0" y="734.5" font-size="33.0" fill="#d93a40" textLength="108.0" lengthAdjust="spacingAndGlyphs" stroke="#d93a40" stroke-width="0.50" stroke-linejoin="round">33.27%</text>
<text x="1758.0" y="781.0" font-size="32.0" fill="#e8b032" stroke="#e8b032" stroke-width="0.50" stroke-linejoin="round">平均成本</text>
<text x="1911.0" y="782.0" font-size="33.0" fill="#e8b032" textLength="66.0" lengthAdjust="spacingAndGlyphs" stroke="#e8b032" stroke-width="0.50" stroke-linejoin="round">5.66</text>
<rect x="1914" y="795" width="152" height="47.5" rx="4" fill="#fff" stroke="#c8c8c8" stroke-width="2"/>
<rect x="1758.5" y="795" width="155.5" height="47.5" rx="4" fill="#fff" stroke="#d93a40" stroke-width="2.4"/>
<text x="1771.0" y="831.0" font-size="32.0" fill="#d93a40" textLength="63.0" lengthAdjust="spacingAndGlyphs" stroke="#d93a40" stroke-width="0.40" stroke-linejoin="round">90%</text>
<text x="1836.0" y="831.0" font-size="32.0" fill="#d93a40" stroke="#d93a40" stroke-width="0.40" stroke-linejoin="round">筹码</text>
<text x="1926.0" y="831.0" font-size="32.0" fill="#333333" textLength="63.0" lengthAdjust="spacingAndGlyphs" stroke="#333333" stroke-width="0.40" stroke-linejoin="round">70%</text>
<text x="1990.0" y="831.0" font-size="32.0" fill="#333333" stroke="#333333" stroke-width="0.40" stroke-linejoin="round">筹码</text>
<text x="1758.0" y="886.0" font-size="32.0" fill="#333333" stroke="#333333" stroke-width="0.50" stroke-linejoin="round">价格区间</text>
<text x="1911.0" y="887.5" font-size="33.0" fill="#333333" textLength="56.0" lengthAdjust="spacingAndGlyphs" stroke="#333333" stroke-width="0.50" stroke-linejoin="round">5.35</text>
<text x="1977.0" y="887.5" font-size="33.0" fill="#333333" textLength="34.0" lengthAdjust="spacingAndGlyphs" stroke="#333333" stroke-width="0.50" stroke-linejoin="round">--</text>
<text x="2021.0" y="887.5" font-size="33.0" fill="#333333" textLength="58.0" lengthAdjust="spacingAndGlyphs" stroke="#333333" stroke-width="0.50" stroke-linejoin="round">6.66</text>
<text x="1758.0" y="931.5" font-size="32.0" fill="#333333" stroke="#333333" stroke-width="0.50" stroke-linejoin="round">集中度</text>
<text x="1911.0" y="932.5" font-size="33.0" fill="#333333" textLength="103.0" lengthAdjust="spacingAndGlyphs" stroke="#333333" stroke-width="0.50" stroke-linejoin="round">10.91%</text>
<text x="1759.0" y="1050.5" font-size="34.5" fill="#333333" stroke="#333333" stroke-width="0.50" stroke-linejoin="round">筹码分布</text>
<circle cx="1926.9" cy="1037.8" r="15.3" fill="none" stroke="#9a9a9a" stroke-width="2.2"/>
<text x="1926.9" y="1046.5" font-size="24.0" fill="#8a8a8a" text-anchor="middle" stroke="#8a8a8a" stroke-width="0.90" stroke-linejoin="round">?</text>
</svg>
</body></html>
